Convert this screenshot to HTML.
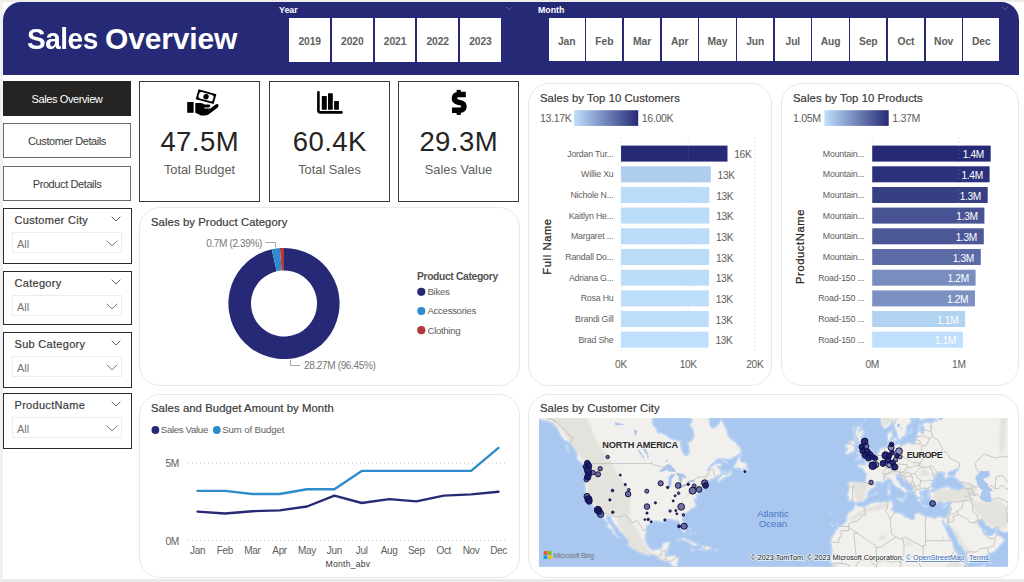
<!DOCTYPE html><html lang="en"><head><meta charset="utf-8"><title>Sales Overview</title><style>
*{box-sizing:border-box;margin:0;padding:0}
html,body{width:1024px;height:582px;overflow:hidden;background:#fff;font-family:"Liberation Sans",sans-serif;}
body{position:relative;color:#252423}
.abs{position:absolute}
#pagebg{left:0;top:0;width:1024px;height:582px;background:#fff;border-top:2px solid #ececec;border-bottom:3px solid #eaeaea;border-left:3px solid #f1f1f1}
#hdr{left:3px;top:2px;width:1016px;height:73px;background:#262a76;border-radius:18px 18px 0 0}
#hdr h1{position:absolute;left:23.5px;top:19px;font-size:30px;line-height:36px;font-weight:bold;color:#fff;letter-spacing:-0.55px;white-space:nowrap}
.sl-t{position:absolute;color:#fff;font-weight:bold;font-size:8.8px;line-height:10px;top:3.3px}
.tile{position:absolute;top:18px;height:44px;background:#fff;color:#605e5c;font-weight:bold;font-size:10.3px;text-align:center;line-height:47px;letter-spacing:-0.1px}
.nav{position:absolute;left:3px;width:128px;height:35px;border:1px solid #6b6b6b;background:#fff;color:#3b3a39;font-size:11px;line-height:35px;text-align:center;letter-spacing:-0.4px}
.nav.on{background:#252423;color:#fff;border-color:#252423}
.slc{position:absolute;left:3px;width:129px;height:56px;border:1px solid #2b2b2b;background:#fff}
.slc .t{position:absolute;left:10.5px;top:3.8px;font-size:11px;line-height:14px;color:#3b3a39;letter-spacing:0.3px;-webkit-text-stroke:0.2px #3b3a39}
.slc .dd{position:absolute;left:8px;top:23.2px;width:110px;height:21px;border:1px solid #ededed;}
.slc .dd span{position:absolute;left:4px;top:3.6px;font-size:11px;line-height:14px;color:#777}
.slc svg{position:absolute;overflow:visible}
.kpi{position:absolute;top:81px;width:121px;height:121px;border:1px solid #3a3a3a;background:#fff}
.kpi .v{position:absolute;left:0;width:100%;top:42px;text-align:center;font-size:27.5px;line-height:35px;color:#252423;letter-spacing:0.45px;text-indent:0.45px}
.kpi .l{position:absolute;left:0;width:100%;top:80px;text-align:center;font-size:12.8px;line-height:16px;color:#605e5c}
.kpi svg{position:absolute}
.card{position:absolute;border:1px solid #e9e9e9;border-radius:21px;background:#fff}
.ttl{position:absolute;font-size:11.3px;line-height:14px;color:#3b3a39;letter-spacing:0.08px;white-space:nowrap;-webkit-text-stroke:0.2px #3b3a39}
svg text{font-family:"Liberation Sans",sans-serif;letter-spacing:-0.35px}
</style></head><body>
<div id="pagebg" class="abs"></div>
<div id="hdr" class="abs"><h1><span style="display:inline-block;transform:scaleX(.935);transform-origin:0 50%;margin-right:-4.9px">Sales</span> <span style="letter-spacing:-0.17px">Overview</span></h1>
<div class="sl-t" style="left:276px">Year</div>
<div class="tile" style="left:286.2px;width:40.9px;top:16.2px;height:43.6px">2019</div>
<div class="tile" style="left:328.9px;width:40.9px;top:16.2px;height:43.6px">2020</div>
<div class="tile" style="left:371.6px;width:40.9px;top:16.2px;height:43.6px">2021</div>
<div class="tile" style="left:414.3px;width:40.9px;top:16.2px;height:43.6px">2022</div>
<div class="tile" style="left:457.0px;width:40.9px;top:16.2px;height:43.6px">2023</div>
<div class="sl-t" style="left:535px">Month</div>
<div class="tile" style="left:545.5px;width:36.3px;top:16.2px;height:43px">Jan</div>
<div class="tile" style="left:583.2px;width:36.3px;top:16.2px;height:43px">Feb</div>
<div class="tile" style="left:620.9px;width:36.3px;top:16.2px;height:43px">Mar</div>
<div class="tile" style="left:658.6px;width:36.3px;top:16.2px;height:43px">Apr</div>
<div class="tile" style="left:696.3px;width:36.3px;top:16.2px;height:43px">May</div>
<div class="tile" style="left:734.0px;width:36.3px;top:16.2px;height:43px">Jun</div>
<div class="tile" style="left:771.7px;width:36.3px;top:16.2px;height:43px">Jul</div>
<div class="tile" style="left:809.4px;width:36.3px;top:16.2px;height:43px">Aug</div>
<div class="tile" style="left:847.1px;width:36.3px;top:16.2px;height:43px">Sep</div>
<div class="tile" style="left:884.8px;width:36.3px;top:16.2px;height:43px">Oct</div>
<div class="tile" style="left:922.5px;width:36.3px;top:16.2px;height:43px">Nov</div>
<div class="tile" style="left:960.2px;width:36.3px;top:16.2px;height:43px">Dec</div>
<svg class="abs" style="left:502px;top:4px" width="8" height="6" viewBox="0 0 8 6"><path d="M1 1 L4 4 L7 1" fill="none" stroke="#5a5e93" stroke-width="1"/></svg>
<svg class="abs" style="left:998px;top:4px" width="8" height="6" viewBox="0 0 8 6"><path d="M1 1 L4 4 L7 1" fill="none" stroke="#5a5e93" stroke-width="1"/></svg>
</div>
<div class="nav on" style="top:81.0px">Sales Overview</div>
<div class="nav" style="top:123.2px">Customer Details</div>
<div class="nav" style="top:165.8px">Product Details</div>
<div class="slc" style="top:208.0px;height:56.0px"><div class="t">Customer City</div>
<svg style="left:107px;top:7px" width="10" height="6" viewBox="0 0 10 6"><path d="M0.7 0.7 L5 5 L9.3 0.7" fill="none" stroke="#666" stroke-width="1"/></svg>
<div class="dd"><span>All</span><svg style="left:93px;top:7px" width="12" height="7" viewBox="0 0 12 7"><path d="M0.7 0.7 L6 5.8 L11.3 0.7" fill="none" stroke="#777" stroke-width="1"/></svg></div></div>
<div class="slc" style="top:271.0px;height:54.0px"><div class="t">Category</div>
<svg style="left:107px;top:7px" width="10" height="6" viewBox="0 0 10 6"><path d="M0.7 0.7 L5 5 L9.3 0.7" fill="none" stroke="#666" stroke-width="1"/></svg>
<div class="dd"><span>All</span><svg style="left:93px;top:7px" width="12" height="7" viewBox="0 0 12 7"><path d="M0.7 0.7 L6 5.8 L11.3 0.7" fill="none" stroke="#777" stroke-width="1"/></svg></div></div>
<div class="slc" style="top:332.0px;height:56.0px"><div class="t">Sub Category</div>
<svg style="left:107px;top:7px" width="10" height="6" viewBox="0 0 10 6"><path d="M0.7 0.7 L5 5 L9.3 0.7" fill="none" stroke="#666" stroke-width="1"/></svg>
<div class="dd"><span>All</span><svg style="left:93px;top:7px" width="12" height="7" viewBox="0 0 12 7"><path d="M0.7 0.7 L6 5.8 L11.3 0.7" fill="none" stroke="#777" stroke-width="1"/></svg></div></div>
<div class="slc" style="top:393.0px;height:56.0px"><div class="t">ProductName</div>
<svg style="left:107px;top:7px" width="10" height="6" viewBox="0 0 10 6"><path d="M0.7 0.7 L5 5 L9.3 0.7" fill="none" stroke="#666" stroke-width="1"/></svg>
<div class="dd"><span>All</span><svg style="left:93px;top:7px" width="12" height="7" viewBox="0 0 12 7"><path d="M0.7 0.7 L6 5.8 L11.3 0.7" fill="none" stroke="#777" stroke-width="1"/></svg></div></div>
<div class="kpi" style="left:139px"><svg style="left:44px;top:6px" width="38" height="30" viewBox="184 88 38 30">
<rect x="187.2" y="102" width="6.4" height="10.8" fill="#000"/>
<path d="M195.3 103 L200.5 103 Q203 103 204.6 104.6 L209.2 104.6 Q210.4 104.8 210.2 106.2 Q210 107.3 208.8 107.4 L204.4 107.4 L204.4 108.4 L210.4 108.4 L215.6 104.4 Q217.3 103.4 218.4 104.8 Q219.1 106.2 217.7 107.4 L209.5 113.8 Q207.5 115.4 205 115.4 L201 115.4 L195.3 112.8 Z" fill="#000"/>
<g transform="rotate(15.5 206 96.5)"><rect x="196.8" y="91.6" width="18.6" height="10.2" fill="#000"/><rect x="198.7" y="93.4" width="14.8" height="6.6" rx="2" fill="#fff"/><circle cx="206.1" cy="96.7" r="2.7" fill="#000"/></g>
</svg><div class="v">47.5M</div><div class="l">Total Budget</div></div>
<div class="kpi" style="left:269px"><svg style="left:44px;top:6px" width="38" height="30" viewBox="314 88 38 30">
<path d="M318.4 92.3 L318.4 110.6 Q318.4 112.4 320.2 112.4 L341.5 112.4" fill="none" stroke="#000" stroke-width="2.6" stroke-linecap="round"/>
<rect x="321.8" y="96.1" width="5" height="13.7" rx="0.6" fill="#000"/><rect x="328" y="93.3" width="4.8" height="16.5" rx="0.6" fill="#000"/><rect x="334.1" y="101" width="4.8" height="8.8" rx="0.6" fill="#000"/>
</svg><div class="v">60.4K</div><div class="l">Total Sales</div></div>
<div class="kpi" style="left:398px"><svg style="left:41px;top:6px" width="38" height="30" viewBox="440 88 38 30">
<path d="M465.8 94.5 L459 94.5 Q454.4 94.5 454.4 98.3 Q454.4 101.4 458.5 102.3 L460.3 102.7 Q464 103.6 464 106.6 Q464 110.3 459.5 110.3 L452 110.3" fill="none" stroke="#000" stroke-width="5.4"/>
<rect x="456.6" y="89.9" width="4.3" height="3" fill="#000"/><rect x="456.6" y="112" width="4.3" height="2.9" fill="#000"/>
</svg><div class="v">29.3M</div><div class="l">Sales Value</div></div>
<div class="card" style="left:139px;top:206.5px;width:381px;height:179.5px"></div>
<div class="ttl" style="left:151px;top:214.5px">Sales by Product Category</div>
<svg class="abs" style="left:139px;top:206px" width="381" height="180" viewBox="139 206 381 180">
<path d="M284.00 247.90 A55.60 55.60 0 1 1 271.70 249.28 L276.70 271.32 A33.00 33.00 0 1 0 284.00 270.50 Z" fill="#262a76"/>
<path d="M271.70 249.28 A55.60 55.60 0 0 1 279.95 248.05 L281.60 270.59 A33.00 33.00 0 0 0 276.70 271.32 Z" fill="#2f8bcc"/>
<path d="M279.95 248.05 A55.60 55.60 0 0 1 284.00 247.90 L284.00 270.50 A33.00 33.00 0 0 0 281.60 270.59 Z" fill="#b5383c"/>
<path d="M265.5 242.5 H275.5 V247.5" fill="none" stroke="#a6a6a6" stroke-width="1"/>
<path d="M290.5 359.5 V365.5 H300" fill="none" stroke="#a6a6a6" stroke-width="1"/>
<text x="262" y="246.6" text-anchor="end" font-size="10" fill="#777">0.7M (2.39%)</text>
<text x="304" y="369" font-size="10" fill="#777">28.27M (96.45%)</text>
<text x="417" y="279.5" font-size="10.3" font-weight="bold" fill="#55534f">Product Category</text>
<circle cx="421.3" cy="291.8" r="4.1" fill="#262a76"/><text x="427.5" y="295.2" font-size="9.7" fill="#605e5c">Bikes</text>
<circle cx="421.3" cy="311.0" r="4.1" fill="#2f8bcc"/><text x="427.5" y="314.4" font-size="9.7" fill="#605e5c">Accessories</text>
<circle cx="421.3" cy="330.2" r="4.1" fill="#b5383c"/><text x="427.5" y="333.6" font-size="9.7" fill="#605e5c">Clothing</text>
</svg>
<div class="card" style="left:139px;top:394px;width:381px;height:183.5px"></div>
<div class="ttl" style="left:151px;top:401px">Sales and Budget Amount by Month</div>
<svg class="abs" style="left:139px;top:394px" width="381" height="184" viewBox="139 394 381 184">
<circle cx="155.4" cy="430" r="3.9" fill="#262a76"/><text x="160.8" y="433.4" font-size="9.7" fill="#605e5c">Sales Value</text>
<circle cx="216.8" cy="430" r="3.9" fill="#2f8bcc"/><text x="222.2" y="433.4" font-size="9.7" fill="#605e5c" style="letter-spacing:-0.15px">Sum of Budget</text>
<line x1="188" x2="507" y1="463.2" y2="463.2" stroke="#c8c8c8" stroke-width="1" stroke-dasharray="1 3"/>
<text x="179" y="467.3" text-anchor="end" font-size="10.2" fill="#605e5c">5M</text>
<line x1="188" x2="507" y1="540.5" y2="540.5" stroke="#c8c8c8" stroke-width="1" stroke-dasharray="1 3"/>
<text x="179" y="544.6" text-anchor="end" font-size="10.2" fill="#605e5c">0M</text>
<text x="197.6" y="553.9" text-anchor="middle" font-size="10" fill="#605e5c">Jan</text>
<text x="224.9" y="553.9" text-anchor="middle" font-size="10" fill="#605e5c">Feb</text>
<text x="252.3" y="553.9" text-anchor="middle" font-size="10" fill="#605e5c">Mar</text>
<text x="279.6" y="553.9" text-anchor="middle" font-size="10" fill="#605e5c">Apr</text>
<text x="307.0" y="553.9" text-anchor="middle" font-size="10" fill="#605e5c">May</text>
<text x="334.4" y="553.9" text-anchor="middle" font-size="10" fill="#605e5c">Jun</text>
<text x="361.7" y="553.9" text-anchor="middle" font-size="10" fill="#605e5c">Jul</text>
<text x="389.1" y="553.9" text-anchor="middle" font-size="10" fill="#605e5c">Aug</text>
<text x="416.4" y="553.9" text-anchor="middle" font-size="10" fill="#605e5c">Sep</text>
<text x="443.8" y="553.9" text-anchor="middle" font-size="10" fill="#605e5c">Oct</text>
<text x="471.1" y="553.9" text-anchor="middle" font-size="10" fill="#605e5c">Nov</text>
<text x="498.5" y="553.9" text-anchor="middle" font-size="10" fill="#605e5c">Dec</text>
<text x="348" y="567" text-anchor="middle" font-size="8.6" fill="#3b3a39" style="letter-spacing:0.25px">Month_abv</text>
<polyline points="197.6,490.9 224.9,490.9 252.3,494.0 279.6,494.0 307.0,489.3 334.4,489.3 361.7,470.9 389.1,470.9 416.4,470.9 443.8,470.9 471.1,470.9 498.5,447.9" fill="none" stroke="#2f8bcc" stroke-width="2.4" stroke-linejoin="round" stroke-linecap="round"/>
<polyline points="197.6,511.6 224.9,513.5 252.3,511.2 279.6,510.4 307.0,506.5 334.4,495.6 361.7,503.0 389.1,499.1 416.4,501.4 443.8,495.6 471.1,494.4 498.5,491.7" fill="none" stroke="#262a76" stroke-width="2.4" stroke-linejoin="round" stroke-linecap="round"/>
</svg>
<div class="card" style="left:528px;top:83px;width:244px;height:303px"></div>
<div class="ttl" style="left:540px;top:91px">Sales by Top 10 Customers</div>
<svg class="abs" style="left:528px;top:83px" width="244" height="303" viewBox="528 83 244 303">
<defs><linearGradient id="gcust" x1="0" x2="1" y1="0" y2="0"><stop offset="0" stop-color="#bee0fc"/><stop offset="1" stop-color="#262a76"/></linearGradient></defs>
<text x="540" y="121.7" font-size="10.6" fill="#605e5c">13.17K</text>
<rect x="574.0" y="110.2" width="64.2" height="15.7" fill="url(#gcust)"/>
<text x="641.8" y="121.7" font-size="10.6" fill="#605e5c">16.00K</text>
<text x="621.0" y="368.3" text-anchor="middle" font-size="10.2" fill="#605e5c">0K</text>
<text x="688.2" y="368.3" text-anchor="middle" font-size="10.2" fill="#605e5c">10K</text>
<text x="754.8" y="368.3" text-anchor="middle" font-size="10.2" fill="#605e5c">20K</text>
<line x1="621.0" x2="621.0" y1="138" y2="352" stroke="#d2d2d2" stroke-width="1" stroke-dasharray="1 3"/>
<line x1="688.2" x2="688.2" y1="138" y2="352" stroke="#d2d2d2" stroke-width="1" stroke-dasharray="1 3"/>
<line x1="754.8" x2="754.8" y1="138" y2="352" stroke="#d2d2d2" stroke-width="1" stroke-dasharray="1 3"/>
<rect x="621.0" y="145.6" width="106.5" height="16" fill="#262a76"/>
<rect x="621.0" y="166.3" width="89.8" height="16" fill="#afceef"/>
<rect x="621.0" y="187.0" width="88.4" height="16" fill="#bbdcf9"/>
<rect x="621.0" y="207.6" width="88.4" height="16" fill="#bbdcf9"/>
<rect x="621.0" y="228.3" width="88.3" height="16" fill="#bbdcf9"/>
<rect x="621.0" y="249.0" width="88.2" height="16" fill="#bbdcf9"/>
<rect x="621.0" y="269.7" width="88.0" height="16" fill="#bcddfa"/>
<rect x="621.0" y="290.4" width="87.9" height="16" fill="#bcdefb"/>
<rect x="621.0" y="311.0" width="87.8" height="16" fill="#bcdefb"/>
<rect x="621.0" y="331.7" width="87.6" height="16" fill="#bee0fc"/>
<line x1="621.0" x2="621.0" y1="138" y2="352" stroke="#ffffff" stroke-opacity="0.22" stroke-width="1" stroke-dasharray="1 3"/>
<line x1="688.2" x2="688.2" y1="138" y2="352" stroke="#ffffff" stroke-opacity="0.22" stroke-width="1" stroke-dasharray="1 3"/>
<line x1="754.8" x2="754.8" y1="138" y2="352" stroke="#ffffff" stroke-opacity="0.22" stroke-width="1" stroke-dasharray="1 3"/>
<text x="613.5" y="156.6" text-anchor="end" font-size="8.8" fill="#605e5c" style="letter-spacing:-0.2px">Jordan Tur...</text>
<text x="734.3" y="158.2" font-size="10.2" fill="#605e5c">16K</text>
<text x="613.5" y="177.3" text-anchor="end" font-size="8.8" fill="#605e5c" style="letter-spacing:-0.2px">Willie Xu</text>
<text x="717.6" y="178.9" font-size="10.2" fill="#605e5c">13K</text>
<text x="613.5" y="198.0" text-anchor="end" font-size="8.8" fill="#605e5c" style="letter-spacing:-0.2px">Nichole N...</text>
<text x="716.2" y="199.6" font-size="10.2" fill="#605e5c">13K</text>
<text x="613.5" y="218.6" text-anchor="end" font-size="8.8" fill="#605e5c" style="letter-spacing:-0.2px">Kaitlyn He...</text>
<text x="716.2" y="220.2" font-size="10.2" fill="#605e5c">13K</text>
<text x="613.5" y="239.3" text-anchor="end" font-size="8.8" fill="#605e5c" style="letter-spacing:-0.2px">Margaret ...</text>
<text x="716.1" y="240.9" font-size="10.2" fill="#605e5c">13K</text>
<text x="613.5" y="260.0" text-anchor="end" font-size="8.8" fill="#605e5c" style="letter-spacing:-0.2px">Randall Do...</text>
<text x="716.0" y="261.6" font-size="10.2" fill="#605e5c">13K</text>
<text x="613.5" y="280.7" text-anchor="end" font-size="8.8" fill="#605e5c" style="letter-spacing:-0.2px">Adriana G...</text>
<text x="715.8" y="282.3" font-size="10.2" fill="#605e5c">13K</text>
<text x="613.5" y="301.4" text-anchor="end" font-size="8.8" fill="#605e5c" style="letter-spacing:-0.2px">Rosa Hu</text>
<text x="715.7" y="303.0" font-size="10.2" fill="#605e5c">13K</text>
<text x="613.5" y="322.0" text-anchor="end" font-size="8.8" fill="#605e5c" style="letter-spacing:-0.2px">Brandi Gill</text>
<text x="715.6" y="323.6" font-size="10.2" fill="#605e5c">13K</text>
<text x="613.5" y="342.7" text-anchor="end" font-size="8.8" fill="#605e5c" style="letter-spacing:-0.2px">Brad She</text>
<text x="715.4" y="344.3" font-size="10.2" fill="#605e5c">13K</text>
<text transform="translate(550.5 246.5) rotate(-90)" text-anchor="middle" font-size="11.2" fill="#252423" style="letter-spacing:0.6px" stroke="#252423" stroke-width="0.2">Full Name</text>
</svg>
<div class="card" style="left:781px;top:83px;width:238px;height:303px"></div>
<div class="ttl" style="left:793px;top:91px">Sales by Top 10 Products</div>
<svg class="abs" style="left:781px;top:83px" width="238" height="303" viewBox="781 83 238 303">
<defs><linearGradient id="gprod" x1="0" x2="1" y1="0" y2="0"><stop offset="0" stop-color="#bee0fc"/><stop offset="1" stop-color="#262a76"/></linearGradient></defs>
<text x="793" y="121.7" font-size="10.6" fill="#605e5c">1.05M</text>
<rect x="824.4" y="110.2" width="64.3" height="15.7" fill="url(#gprod)"/>
<text x="892.3" y="121.7" font-size="10.6" fill="#605e5c">1.37M</text>
<text x="872.2" y="368.3" text-anchor="middle" font-size="10.2" fill="#605e5c">0M</text>
<text x="958.8" y="368.3" text-anchor="middle" font-size="10.2" fill="#605e5c">1M</text>
<line x1="872.2" x2="872.2" y1="138" y2="352" stroke="#d2d2d2" stroke-width="1" stroke-dasharray="1 3"/>
<line x1="958.8" x2="958.8" y1="138" y2="352" stroke="#d2d2d2" stroke-width="1" stroke-dasharray="1 3"/>
<rect x="872.2" y="145.6" width="118.5" height="16" fill="#262a76"/>
<rect x="872.2" y="166.3" width="117.4" height="16" fill="#2c317b"/>
<rect x="872.2" y="187.0" width="115.5" height="16" fill="#363e84"/>
<rect x="872.2" y="207.6" width="112.2" height="16" fill="#485394"/>
<rect x="872.2" y="228.3" width="111.6" height="16" fill="#4c5797"/>
<rect x="872.2" y="249.0" width="108.6" height="16" fill="#5c6ba6"/>
<rect x="872.2" y="269.7" width="103.4" height="16" fill="#798dbf"/>
<rect x="872.2" y="290.4" width="102.8" height="16" fill="#7c91c2"/>
<rect x="872.2" y="311.0" width="92.9" height="16" fill="#b2d2f1"/>
<rect x="872.2" y="331.7" width="90.7" height="16" fill="#bee0fc"/>
<line x1="872.2" x2="872.2" y1="138" y2="352" stroke="#ffffff" stroke-opacity="0.22" stroke-width="1" stroke-dasharray="1 3"/>
<line x1="958.8" x2="958.8" y1="138" y2="352" stroke="#ffffff" stroke-opacity="0.22" stroke-width="1" stroke-dasharray="1 3"/>
<text x="864.2" y="156.6" text-anchor="end" font-size="8.8" fill="#605e5c" style="letter-spacing:-0.2px">Mountain...</text>
<text x="983.9" y="158.2" text-anchor="end" font-size="10.2" fill="#fff">1.4M</text>
<text x="864.2" y="177.3" text-anchor="end" font-size="8.8" fill="#605e5c" style="letter-spacing:-0.2px">Mountain...</text>
<text x="982.8" y="178.9" text-anchor="end" font-size="10.2" fill="#fff">1.4M</text>
<text x="864.2" y="198.0" text-anchor="end" font-size="8.8" fill="#605e5c" style="letter-spacing:-0.2px">Mountain...</text>
<text x="980.9" y="199.6" text-anchor="end" font-size="10.2" fill="#fff">1.3M</text>
<text x="864.2" y="218.6" text-anchor="end" font-size="8.8" fill="#605e5c" style="letter-spacing:-0.2px">Mountain...</text>
<text x="977.6" y="220.2" text-anchor="end" font-size="10.2" fill="#fff">1.3M</text>
<text x="864.2" y="239.3" text-anchor="end" font-size="8.8" fill="#605e5c" style="letter-spacing:-0.2px">Mountain...</text>
<text x="977.0" y="240.9" text-anchor="end" font-size="10.2" fill="#fff">1.3M</text>
<text x="864.2" y="260.0" text-anchor="end" font-size="8.8" fill="#605e5c" style="letter-spacing:-0.2px">Mountain...</text>
<text x="974.0" y="261.6" text-anchor="end" font-size="10.2" fill="#fff">1.3M</text>
<text x="864.2" y="280.7" text-anchor="end" font-size="8.8" fill="#605e5c" style="letter-spacing:-0.2px">Road-150 ...</text>
<text x="968.8" y="282.3" text-anchor="end" font-size="10.2" fill="#fff">1.2M</text>
<text x="864.2" y="301.4" text-anchor="end" font-size="8.8" fill="#605e5c" style="letter-spacing:-0.2px">Road-150 ...</text>
<text x="968.2" y="303.0" text-anchor="end" font-size="10.2" fill="#fff">1.2M</text>
<text x="864.2" y="322.0" text-anchor="end" font-size="8.8" fill="#605e5c" style="letter-spacing:-0.2px">Road-150 ...</text>
<text x="958.3" y="323.6" text-anchor="end" font-size="10.2" fill="#fff">1.1M</text>
<text x="864.2" y="342.7" text-anchor="end" font-size="8.8" fill="#605e5c" style="letter-spacing:-0.2px">Road-150 ...</text>
<text x="956.1" y="344.3" text-anchor="end" font-size="10.2" fill="#fff">1.1M</text>
<text transform="translate(803.8 246.5) rotate(-90)" text-anchor="middle" font-size="11.2" fill="#252423" style="letter-spacing:0.6px" stroke="#252423" stroke-width="0.2">ProductName</text>
</svg>
<div class="card" style="left:528px;top:393.5px;width:491px;height:184.5px"></div>
<div class="ttl" style="left:540px;top:401px">Sales by Customer City</div>
<svg class="abs" style="left:539.0px;top:418.2px" width="469.2" height="148.8" viewBox="539.0 418.2 469.2 148.8">
<rect x="539.0" y="418.2" width="469.2" height="148.8" fill="#a9c7ef"/>
<defs><filter id="tb" x="-20%" y="-20%" width="140%" height="140%"><feGaussianBlur stdDeviation="1.3"/></filter><clipPath id="landclip"><path d="M526.5 410.9L529.9 414.7L533.3 417.5L537.9 418.9L541.8 420.3L545.9 421.2L549.3 422.1L553.4 424.8L556.6 427.9L558.9 432.6L560.9 436.7L564.1 440.8L569.4 442.7L571.2 444.7L573.0 448.2L576.0 451.9L577.1 455.6L576.0 457.1L577.1 459.6L579.9 462.4L582.6 464.2L585.8 465.9L584.2 465.9L585.1 469.6L585.8 473.3L585.6 478.5L584.6 484.2L585.3 487.5L584.9 491.5L586.2 494.7L588.1 497.7L589.2 499.1L589.7 501.1L590.6 502.5L591.9 505.1L593.8 508.4L596.0 508.7L598.1 509.8L599.2 510.6L601.1 512.3L601.5 513.9L602.4 516.0L604.0 519.2L605.6 521.6L608.1 524.2L606.3 526.3L608.6 528.1L609.9 529.1L612.2 531.1L612.7 533.9L615.4 535.9L617.7 538.7L619.1 537.9L617.0 535.4L615.6 533.4L614.3 530.1L612.7 527.8L611.1 525.0L608.6 521.9L607.0 519.0L606.8 516.0L610.4 517.1L611.3 519.8L612.7 522.7L615.2 525.8L617.7 528.3L619.3 531.7L622.5 534.2L625.7 537.7L627.5 540.1L628.4 542.1L628.2 544.3L627.5 545.0L629.3 547.5L631.6 548.7L635.5 550.8L638.2 552.3L640.7 553.4L643.9 554.6L648.3 556.1L650.8 555.6L652.1 554.9L654.4 555.6L656.9 557.5L658.3 558.9L661.0 560.3L663.8 561.2L666.7 561.9L669.0 562.4L670.1 563.8L671.7 565.7L672.9 567.1L672.9 569.4L675.2 570.3L678.1 572.6L679.7 574.0L682.7 575.2L685.0 576.3L686.1 572.6L684.3 571.7L682.0 571.9L680.2 570.5L678.3 568.5L677.4 567.1L677.7 564.7L678.1 562.4L678.6 560.1L678.8 557.7L677.4 556.8L675.4 555.6L672.4 555.6L669.0 555.8L667.2 555.8L665.8 555.6L666.9 554.2L667.4 551.8L667.6 549.9L668.3 549.4L668.8 547.0L669.5 544.8L670.6 542.6L669.5 541.9L666.7 542.1L663.8 542.6L662.4 543.3L662.2 545.8L661.5 547.7L659.9 548.9L657.6 549.4L655.3 549.6L653.3 550.1L650.8 548.9L649.4 547.7L648.3 545.8L646.9 543.8L646.2 541.9L645.5 540.1L645.5 537.9L645.7 535.4L646.4 532.9L646.9 531.1L646.4 528.9L647.1 526.3L649.2 524.5L651.4 523.2L652.6 522.1L654.6 521.3L657.4 521.6L659.7 521.9L661.5 522.7L663.1 522.9L664.2 522.4L665.1 523.2L664.4 521.6L664.2 520.0L666.0 519.5L667.9 519.8L669.7 519.8L671.5 519.5L673.1 520.3L674.2 521.3L676.1 520.8L677.0 520.3L678.3 521.6L679.7 523.2L679.7 525.3L679.9 526.8L681.1 528.9L682.0 530.9L683.4 532.7L684.5 533.0L685.4 532.4L685.9 531.1L686.1 528.9L685.4 526.8L685.0 524.7L683.8 522.7L682.9 519.8L683.1 517.4L684.0 515.2L686.3 513.4L687.9 511.7L690.7 510.4L691.6 509.0L693.9 508.1L696.1 506.5L695.9 504.2L695.2 501.7L694.5 500.5L694.3 498.5L695.4 500.8L696.8 498.5L697.3 496.5L696.6 495.0L697.7 495.8L699.3 493.9L699.8 491.5L700.5 490.9L703.0 490.3L704.6 489.5L703.0 488.8L705.3 488.8L706.6 488.2L708.9 487.8L708.7 486.5L707.8 487.2L706.6 485.7L707.3 484.5L707.5 482.9L708.4 481.3L710.5 480.4L712.3 479.4L714.6 478.5L715.7 477.5L717.8 476.5L720.5 475.2L721.4 474.3L721.2 475.9L719.6 477.2L718.2 478.5L717.6 481.0L718.9 482.3L721.4 480.4L723.7 478.5L727.1 477.2L729.4 476.2L731.2 474.9L731.9 473.0L730.6 470.6L728.3 473.0L726.0 474.9L722.8 473.9L720.8 472.0L720.3 470.0L718.9 467.9L717.3 466.9L720.8 466.9L722.1 464.5L720.3 463.1L716.7 463.5L712.3 465.5L709.6 468.3L707.3 470.6L708.0 469.6L709.8 466.9L712.1 464.2L714.8 462.4L716.9 459.6L721.4 459.2L726.0 459.6L730.6 459.6L733.5 458.2L738.1 455.3L741.3 453.1L741.0 450.1L740.1 447.0L737.4 444.7L736.5 442.7L732.8 440.4L729.6 437.5L727.8 434.7L727.4 431.3L725.8 427.9L723.7 423.9L721.4 418.9L719.6 422.1L717.3 425.7L714.4 427.4L712.5 428.3L710.0 425.2L709.6 420.3L708.9 415.7L704.3 408.5L690.7 408.5L690.2 416.6L692.0 420.8L689.5 425.7L692.3 429.2L693.4 433.4L693.9 436.7L691.6 440.4L687.7 442.7L688.4 446.3L688.8 450.1L689.3 453.1L687.5 454.9L686.1 456.0L684.3 454.5L682.2 451.2L681.1 447.0L680.9 443.1L680.6 440.8L677.0 440.8L673.3 439.6L669.0 437.5L665.6 434.7L661.5 433.0L657.8 433.0L656.7 429.2L653.7 425.7L652.4 421.7L653.7 415.7L655.3 408.5ZM741.0 454.5L738.5 457.1L736.7 460.3L735.6 463.1L734.0 465.5L733.3 468.3L736.3 468.6L739.5 468.6L741.3 470.6L742.2 471.0L743.8 468.6L745.2 469.6L745.4 471.3L747.2 471.6L748.1 469.6L748.1 467.9L746.3 466.9L747.4 464.9L746.3 463.1L744.0 462.1L741.5 461.7L740.8 460.3L740.4 457.4L741.7 455.6ZM676.3 540.9L677.0 539.6L678.8 538.7L681.1 538.0L683.8 537.9L686.1 538.7L688.4 539.9L690.7 540.9L692.5 541.9L694.8 542.8L696.6 543.6L699.1 545.0L697.5 545.8L694.1 546.0L691.6 546.0L691.6 544.5L689.7 543.8L687.5 541.9L684.7 541.1L682.5 540.4L680.4 539.6L678.1 540.3ZM701.4 546.0L703.9 545.9L706.2 546.0L709.1 546.7L710.5 547.7L712.5 548.9L711.9 550.1L709.4 549.6L707.1 550.1L705.5 551.3L703.4 550.1L700.7 550.3L698.9 549.6L699.3 549.0L703.0 549.4L702.5 547.9L701.4 546.7ZM690.0 549.5L692.5 549.4L694.5 550.1L694.3 550.8L692.3 551.1L690.2 550.3ZM715.3 549.4L718.7 549.5L718.5 550.6L715.3 550.7ZM721.7 460.7L726.7 462.1L727.6 463.5L724.2 462.8ZM722.1 471.0L726.9 472.3L725.8 473.9L722.8 473.3ZM565.3 445.1L568.0 445.9L568.2 449.3L569.6 452.7L567.1 450.8ZM690.2 533.2L691.3 535.2L690.4 534.9ZM688.6 529.1L691.1 529.6L689.3 529.4ZM694.3 532.4L694.8 534.2L695.0 533.4ZM917.5 408.5L917.3 415.2L917.7 418.0L919.1 418.9L920.9 421.0L923.7 420.1L926.4 419.4L929.6 418.2L931.9 417.8L933.7 417.5L934.6 419.4L937.4 420.5L935.1 420.8L933.0 422.1L930.1 422.8L927.1 422.1L924.8 422.8L922.1 423.9L922.3 426.1L924.1 427.9L923.9 430.0L923.2 433.4L921.4 433.0L920.0 430.4L917.7 431.7L916.4 435.5L916.6 438.8L915.2 441.6L913.6 443.5L911.6 444.1L910.5 442.5L907.7 442.7L905.0 444.3L901.8 445.1L900.9 445.9L899.5 443.9L898.8 442.9L896.8 444.3L895.9 445.1L893.4 445.5L893.4 443.9L891.5 443.9L890.4 442.3L890.6 440.4L891.3 438.8L891.8 437.1L893.4 435.5L892.0 433.8L892.4 431.3L892.7 430.2L891.1 431.1L888.1 433.0L887.0 435.1L887.0 437.9L887.4 439.6L888.1 442.0L888.1 443.9L888.8 445.9L887.9 447.2L885.1 446.6L884.5 447.8L882.2 447.6L880.6 448.6L879.2 449.7L878.8 451.6L877.8 453.1L876.5 454.9L875.1 455.8L872.8 456.7L872.1 457.8L871.9 459.6L871.0 460.5L869.2 461.4L868.7 462.4L867.4 462.8L866.0 462.4L865.5 461.4L864.2 461.4L864.9 463.1L865.1 465.0L863.3 465.0L861.4 464.3L859.6 464.9L857.8 465.2L857.6 466.2L857.8 467.3L858.9 467.9L861.2 468.6L862.8 469.6L863.7 470.6L864.4 472.3L865.8 473.6L866.0 475.2L865.6 478.2L865.1 481.7L864.2 482.4L861.7 482.3L859.8 482.0L857.6 482.1L855.3 481.7L852.5 481.7L850.7 481.2L849.3 482.3L847.4 483.5L848.2 485.1L848.2 486.6L848.7 489.1L848.4 491.2L848.0 493.3L847.1 494.6L846.8 496.4L848.2 497.1L848.3 498.5L848.1 501.4L850.5 501.4L852.5 500.8L853.9 501.8L854.6 503.4L855.7 504.2L856.3 503.8L857.3 502.8L858.7 502.3L860.7 502.1L862.8 502.3L863.7 502.1L864.4 500.8L866.2 499.7L866.9 499.4L867.4 497.7L869.0 496.5L868.0 495.3L867.8 493.9L868.7 492.4L870.3 490.6L871.2 489.5L873.5 488.6L875.6 487.2L875.9 485.7L875.5 484.5L876.0 482.9L877.8 482.0L879.4 482.4L880.8 482.6L882.2 483.4L883.8 482.6L885.1 481.3L886.7 480.9L887.9 479.4L889.0 479.1L891.1 480.2L892.0 482.0L892.7 483.7L894.0 485.4L895.4 486.5L896.8 487.8L898.4 488.9L899.7 488.9L900.6 490.3L901.6 490.9L902.7 491.8L904.1 492.7L905.2 494.7L904.8 496.5L904.2 498.2L905.1 498.8L906.3 497.4L906.3 495.9L907.6 495.6L906.6 493.9L906.3 492.7L907.3 491.2L908.9 491.8L910.3 493.3L910.7 492.1L909.5 490.7L907.5 489.7L905.2 488.5L905.3 486.9L903.6 486.9L902.0 486.3L900.6 484.8L900.0 483.2L899.3 481.7L897.5 480.4L896.5 478.8L897.0 477.4L896.5 475.9L899.3 474.8L899.5 475.6L900.2 477.8L901.3 476.2L902.5 478.5L903.4 480.1L905.0 481.7L906.6 482.1L908.4 483.5L910.0 484.8L911.8 486.3L913.0 487.8L912.8 489.7L912.7 491.5L913.9 492.7L914.6 494.1L915.7 495.6L916.6 497.4L918.2 497.7L920.5 498.1L920.7 498.7L918.0 498.0L916.8 498.8L917.7 500.3L918.0 502.0L918.9 501.7L919.7 503.1L920.3 502.0L921.3 503.0L920.9 501.1L921.6 500.0L920.9 498.8L922.3 498.7L923.3 499.5L923.4 498.2L922.1 496.8L920.9 495.6L920.7 494.7L920.3 493.0L920.3 491.2L920.8 491.0L921.6 492.1L922.5 492.8L923.0 491.8L923.9 492.4L923.2 490.9L924.4 490.0L925.7 489.8L927.8 490.3L929.6 490.9L928.2 492.5L929.5 491.3L930.7 490.4L932.1 489.7L934.4 489.7L934.8 488.9L932.8 487.8L932.3 486.6L931.2 485.1L932.2 482.9L933.7 481.0L933.9 479.4L934.8 477.8L936.2 476.5L936.9 474.6L938.6 472.6L940.1 472.0L941.9 472.3L942.4 473.4L944.9 473.6L943.7 474.8L942.6 476.1L944.9 477.2L944.8 478.6L946.0 479.1L948.1 477.8L949.2 477.0L951.5 476.9L951.9 475.9L949.7 475.9L948.1 474.3L948.5 473.3L950.6 471.6L952.9 471.3L954.2 470.3L956.5 470.1L958.1 470.3L956.1 471.6L955.4 473.6L954.7 475.2L952.9 476.5L953.5 477.5L954.9 478.3L956.5 479.4L957.9 480.4L959.2 482.0L960.6 482.9L962.2 483.8L963.5 486.0L963.3 487.8L961.5 489.1L959.2 489.7L957.0 489.7L954.2 489.4L951.7 488.8L950.4 487.5L948.5 486.5L946.0 486.8L943.5 487.2L941.0 488.3L938.7 489.4L936.7 489.2L935.1 489.1L934.7 489.7L936.4 490.4L934.4 491.0L932.3 491.6L930.3 491.3L928.9 492.1L928.0 493.9L929.4 494.7L929.8 496.2L929.8 497.2L928.5 497.7L930.5 498.7L930.7 500.3L931.0 501.4L932.3 502.3L933.5 502.1L934.8 502.8L935.8 503.7L937.6 503.4L938.5 501.8L940.3 502.3L941.9 503.1L943.3 504.1L945.1 503.8L946.7 502.8L947.8 502.0L949.4 502.5L950.8 501.8L950.2 503.4L950.0 505.4L950.4 507.6L949.7 509.3L949.2 510.9L948.5 512.5L948.0 514.2L947.3 516.0L946.2 517.4L944.2 517.8L942.1 517.1L941.0 516.6L939.2 516.6L937.8 516.7L936.4 517.5L934.6 518.3L932.1 517.6L930.3 516.8L928.2 516.6L925.7 516.3L924.8 515.2L922.3 515.0L921.2 513.6L919.1 512.8L917.3 513.1L914.8 514.2L914.0 516.0L914.3 517.9L913.2 519.5L911.4 519.8L909.5 518.4L906.8 517.4L904.1 516.3L903.2 514.4L901.3 513.6L898.8 512.8L896.5 512.9L894.7 512.1L893.6 510.9L892.0 510.6L891.5 509.3L893.1 507.9L893.8 506.2L892.9 504.8L892.7 503.1L893.6 502.0L893.4 501.3L892.0 502.0L891.0 500.5L889.0 500.8L887.7 501.7L885.8 501.5L884.2 501.3L882.2 502.0L880.1 502.1L878.1 501.7L875.6 502.0L873.7 502.5L871.5 502.8L869.2 504.0L867.4 504.8L865.8 506.2L863.9 506.8L861.8 506.2L859.6 506.5L857.6 505.9L856.3 504.7L854.9 504.8L854.4 506.5L853.7 508.4L852.9 509.8L851.2 510.9L849.1 511.9L847.8 513.6L847.1 515.2L846.2 516.6L845.9 519.0L846.6 519.8L845.7 521.6L844.1 523.2L842.7 524.5L839.1 525.9L837.9 527.8L835.7 530.1L834.5 532.7L833.4 534.7L832.1 536.7L831.3 538.9L829.9 541.4L829.6 543.8L830.9 544.5L831.3 546.2L830.9 547.7L831.9 550.3L831.3 553.0L830.8 555.3L829.7 557.2L828.6 558.4L830.0 559.4L830.4 561.0L830.2 562.9L830.3 564.0L832.2 565.0L833.2 566.4L834.5 567.3L835.9 568.9L837.3 570.5L838.4 574.0L983.6 574.0L985.2 568.2L985.5 565.1L983.9 565.0L980.2 566.4L976.8 566.7L974.1 567.8L971.1 568.3L968.8 567.3L967.5 566.3L966.8 565.7L965.9 565.8L967.2 564.9L967.2 563.8L965.9 562.9L964.3 561.0L961.3 558.2L958.6 556.3L957.6 554.2L956.5 551.1L954.2 548.9L953.4 546.5L953.2 543.6L952.6 540.9L949.9 538.4L949.4 536.2L948.2 533.7L946.7 530.6L945.6 527.8L944.2 525.3L942.9 522.7L942.7 520.7L944.0 523.2L945.1 525.3L946.6 526.4L947.4 524.2L948.2 521.9L947.8 524.5L948.5 525.8L949.9 527.6L951.9 530.4L953.3 533.4L954.9 535.7L956.7 538.4L957.5 540.9L957.8 543.3L959.7 545.3L962.0 547.7L963.1 550.1L965.2 553.0L966.1 555.3L966.3 557.9L967.1 560.5L967.7 563.1L969.5 563.1L972.0 561.9L975.7 560.8L978.6 559.8L981.8 558.2L984.8 557.0L987.5 554.9L990.5 553.4L993.0 553.0L995.3 551.3L997.8 548.9L1000.1 546.0L1001.9 544.5L1003.7 542.1L1005.0 539.6L1003.0 538.4L1002.1 536.9L999.6 535.9L997.5 534.9L997.1 533.4L997.0 530.4L996.4 531.9L994.6 532.7L993.0 533.9L991.6 535.4L988.9 535.7L986.4 535.4L985.7 534.4L986.3 533.2L985.5 530.6L984.4 531.9L984.3 533.9L983.2 532.2L982.7 529.4L980.9 527.6L979.5 525.5L978.4 523.2L977.9 521.6L979.2 520.6L981.1 519.8L983.0 520.8L984.6 523.2L985.7 525.8L988.0 526.5L990.3 528.6L993.0 529.4L996.0 528.3L998.0 528.1L998.9 530.1L1000.7 531.9L1003.9 532.5L1007.6 532.9L1012.1 532.9L1012.1 408.5ZM879.9 408.5L879.7 412.8L879.7 416.6L880.4 419.8L880.6 423.0L881.3 425.7L882.9 427.9L884.7 429.2L887.2 428.3L889.5 426.1L891.3 424.8L892.4 422.1L892.9 420.8L893.4 423.5L894.0 425.2L894.5 427.9L895.6 430.4L896.8 433.4L897.2 436.3L897.7 437.5L898.0 439.6L899.5 440.0L901.1 439.8L902.0 437.5L904.1 436.7L905.7 435.1L906.3 431.7L906.8 429.2L906.8 426.6L908.6 425.2L910.5 423.5L911.6 420.8L910.5 418.5L908.2 417.1L908.4 408.5ZM860.7 426.3L861.5 426.6L861.2 427.9L859.4 429.6L859.2 431.1L861.0 430.4L863.9 430.4L864.4 431.7L863.7 433.0L862.8 435.1L862.3 436.3L861.0 437.5L862.6 437.3L863.9 438.3L865.0 440.8L865.8 442.7L867.1 443.5L868.2 445.1L868.7 446.8L869.2 448.2L869.2 449.3L869.0 450.1L870.3 449.5L871.7 449.7L872.5 451.2L871.9 452.9L871.0 453.8L869.9 454.9L871.7 455.3L871.6 456.4L870.6 457.1L869.0 457.6L867.1 457.4L865.5 457.6L863.9 458.2L862.8 458.3L861.7 457.8L860.5 458.9L860.1 459.6L858.9 459.1L857.3 459.6L856.6 460.4L855.5 460.1L856.4 459.1L857.3 458.2L858.2 456.7L859.4 456.0L861.4 456.0L862.1 454.9L861.0 455.3L859.6 454.7L858.0 454.4L856.9 454.4L856.4 453.4L857.8 452.7L859.2 451.6L859.2 450.3L857.7 450.1L858.5 448.6L858.2 447.8L859.8 448.2L861.4 448.0L861.7 446.3L862.0 445.1L861.0 444.9L860.3 443.5L860.7 442.0L859.4 442.2L857.3 442.9L856.8 441.6L857.8 439.8L857.4 437.9L856.4 439.2L855.4 440.4L855.6 438.3L855.7 436.3L855.0 435.5L854.4 434.7L855.3 433.4L855.5 432.1L855.3 430.9L856.4 429.6L856.4 428.1L857.1 426.6L858.9 426.8ZM851.7 440.2L854.4 440.8L855.3 442.2L855.8 443.1L855.8 444.3L854.6 445.5L854.5 447.0L854.6 448.2L854.8 449.7L854.1 451.6L853.9 452.3L852.3 452.5L850.5 453.4L849.1 454.2L847.1 454.9L846.0 454.9L845.2 453.8L844.8 452.7L845.9 451.9L846.2 451.0L846.8 449.7L847.8 448.7L846.6 448.4L845.4 447.6L845.9 446.3L845.5 445.5L845.8 444.3L848.2 444.5L849.3 443.7L848.7 442.9L849.3 441.6L850.5 440.6ZM875.7 492.8L876.4 493.4L875.6 494.7L874.8 494.6L874.0 493.9L874.9 493.1ZM871.5 495.3L872.0 496.1L871.4 496.1ZM877.3 492.4L878.3 493.1L877.3 492.8ZM889.9 483.5L890.2 484.8L890.3 486.6L889.6 488.5L888.6 488.0L888.1 486.3L888.5 484.9L889.7 484.5ZM889.6 488.9L890.6 490.0L890.6 492.7L890.3 495.0L888.8 495.9L887.7 495.3L887.7 493.0L887.2 490.9L887.4 489.8L888.8 489.7ZM904.1 497.7L903.4 499.1L903.2 500.5L902.9 502.3L901.3 502.0L900.2 501.1L897.9 500.0L896.9 498.8L897.6 498.1L899.1 498.0L900.9 498.5L902.5 498.1ZM922.3 505.2L923.7 505.6L925.5 505.9L927.3 506.2L928.5 506.5L928.0 507.0L925.5 507.2L924.4 506.8L922.3 506.3ZM947.4 505.1L945.9 506.6L945.3 507.2L943.7 508.1L942.4 507.7L942.1 506.8L943.5 506.5L944.7 505.9ZM932.8 503.0L932.6 504.0L931.8 504.5L931.8 503.7ZM921.6 495.6L923.2 496.8L924.5 498.5L923.0 497.7L921.2 496.2ZM928.2 494.4L929.0 495.3L927.8 495.6ZM927.8 496.9L928.0 498.0L927.6 497.7ZM894.5 437.7L896.5 437.1L897.2 438.8L896.3 440.8L895.6 442.7L893.8 442.2L894.0 440.4L893.5 439.2ZM891.1 439.2L892.9 439.6L893.1 441.2L891.5 441.4ZM911.8 429.4L911.6 431.7L910.2 433.6L909.8 432.1L910.9 430.0ZM907.4 431.9L906.6 435.1L905.9 436.7L906.6 433.8ZM918.7 426.6L921.2 427.2L920.3 428.3L918.7 429.2L918.3 427.9ZM919.6 424.6L920.9 425.2L919.8 425.9ZM913.4 418.5L915.0 418.9L914.1 420.1L913.2 419.4ZM858.5 443.9L858.4 444.9L857.7 445.3L858.0 444.3ZM854.1 430.4L855.0 432.6L854.1 433.0L853.2 431.7ZM854.4 427.0L854.1 428.3L853.0 430.0L852.3 429.6L852.5 428.1ZM854.8 435.1L855.3 436.3L853.9 436.3ZM854.6 437.9L854.6 439.2L853.7 438.8ZM861.0 423.9L862.1 424.8L861.0 425.2ZM865.5 417.5L866.0 419.4L865.5 420.8L864.9 419.4ZM901.2 504.4L901.6 504.7L901.3 504.8ZM893.0 510.1L893.7 510.5L893.1 510.8ZM831.6 524.3L830.8 525.5L830.0 524.9ZM833.3 525.4L833.4 526.3L832.5 525.9ZM836.9 524.0L836.1 525.5L836.4 524.7ZM837.8 522.7L837.1 523.4L837.7 523.2ZM829.3 512.9L830.3 513.5L829.4 513.4ZM990.3 563.1L992.5 563.5L991.2 563.9ZM994.6 528.5L996.0 529.5L996.8 529.2L996.2 528.6ZM983.6 530.3L983.9 531.3L983.5 530.8Z"/></clipPath></defs>
<path d="M526.5 410.9L529.9 414.7L533.3 417.5L537.9 418.9L541.8 420.3L545.9 421.2L549.3 422.1L553.4 424.8L556.6 427.9L558.9 432.6L560.9 436.7L564.1 440.8L569.4 442.7L571.2 444.7L573.0 448.2L576.0 451.9L577.1 455.6L576.0 457.1L577.1 459.6L579.9 462.4L582.6 464.2L585.8 465.9L584.2 465.9L585.1 469.6L585.8 473.3L585.6 478.5L584.6 484.2L585.3 487.5L584.9 491.5L586.2 494.7L588.1 497.7L589.2 499.1L589.7 501.1L590.6 502.5L591.9 505.1L593.8 508.4L596.0 508.7L598.1 509.8L599.2 510.6L601.1 512.3L601.5 513.9L602.4 516.0L604.0 519.2L605.6 521.6L608.1 524.2L606.3 526.3L608.6 528.1L609.9 529.1L612.2 531.1L612.7 533.9L615.4 535.9L617.7 538.7L619.1 537.9L617.0 535.4L615.6 533.4L614.3 530.1L612.7 527.8L611.1 525.0L608.6 521.9L607.0 519.0L606.8 516.0L610.4 517.1L611.3 519.8L612.7 522.7L615.2 525.8L617.7 528.3L619.3 531.7L622.5 534.2L625.7 537.7L627.5 540.1L628.4 542.1L628.2 544.3L627.5 545.0L629.3 547.5L631.6 548.7L635.5 550.8L638.2 552.3L640.7 553.4L643.9 554.6L648.3 556.1L650.8 555.6L652.1 554.9L654.4 555.6L656.9 557.5L658.3 558.9L661.0 560.3L663.8 561.2L666.7 561.9L669.0 562.4L670.1 563.8L671.7 565.7L672.9 567.1L672.9 569.4L675.2 570.3L678.1 572.6L679.7 574.0L682.7 575.2L685.0 576.3L686.1 572.6L684.3 571.7L682.0 571.9L680.2 570.5L678.3 568.5L677.4 567.1L677.7 564.7L678.1 562.4L678.6 560.1L678.8 557.7L677.4 556.8L675.4 555.6L672.4 555.6L669.0 555.8L667.2 555.8L665.8 555.6L666.9 554.2L667.4 551.8L667.6 549.9L668.3 549.4L668.8 547.0L669.5 544.8L670.6 542.6L669.5 541.9L666.7 542.1L663.8 542.6L662.4 543.3L662.2 545.8L661.5 547.7L659.9 548.9L657.6 549.4L655.3 549.6L653.3 550.1L650.8 548.9L649.4 547.7L648.3 545.8L646.9 543.8L646.2 541.9L645.5 540.1L645.5 537.9L645.7 535.4L646.4 532.9L646.9 531.1L646.4 528.9L647.1 526.3L649.2 524.5L651.4 523.2L652.6 522.1L654.6 521.3L657.4 521.6L659.7 521.9L661.5 522.7L663.1 522.9L664.2 522.4L665.1 523.2L664.4 521.6L664.2 520.0L666.0 519.5L667.9 519.8L669.7 519.8L671.5 519.5L673.1 520.3L674.2 521.3L676.1 520.8L677.0 520.3L678.3 521.6L679.7 523.2L679.7 525.3L679.9 526.8L681.1 528.9L682.0 530.9L683.4 532.7L684.5 533.0L685.4 532.4L685.9 531.1L686.1 528.9L685.4 526.8L685.0 524.7L683.8 522.7L682.9 519.8L683.1 517.4L684.0 515.2L686.3 513.4L687.9 511.7L690.7 510.4L691.6 509.0L693.9 508.1L696.1 506.5L695.9 504.2L695.2 501.7L694.5 500.5L694.3 498.5L695.4 500.8L696.8 498.5L697.3 496.5L696.6 495.0L697.7 495.8L699.3 493.9L699.8 491.5L700.5 490.9L703.0 490.3L704.6 489.5L703.0 488.8L705.3 488.8L706.6 488.2L708.9 487.8L708.7 486.5L707.8 487.2L706.6 485.7L707.3 484.5L707.5 482.9L708.4 481.3L710.5 480.4L712.3 479.4L714.6 478.5L715.7 477.5L717.8 476.5L720.5 475.2L721.4 474.3L721.2 475.9L719.6 477.2L718.2 478.5L717.6 481.0L718.9 482.3L721.4 480.4L723.7 478.5L727.1 477.2L729.4 476.2L731.2 474.9L731.9 473.0L730.6 470.6L728.3 473.0L726.0 474.9L722.8 473.9L720.8 472.0L720.3 470.0L718.9 467.9L717.3 466.9L720.8 466.9L722.1 464.5L720.3 463.1L716.7 463.5L712.3 465.5L709.6 468.3L707.3 470.6L708.0 469.6L709.8 466.9L712.1 464.2L714.8 462.4L716.9 459.6L721.4 459.2L726.0 459.6L730.6 459.6L733.5 458.2L738.1 455.3L741.3 453.1L741.0 450.1L740.1 447.0L737.4 444.7L736.5 442.7L732.8 440.4L729.6 437.5L727.8 434.7L727.4 431.3L725.8 427.9L723.7 423.9L721.4 418.9L719.6 422.1L717.3 425.7L714.4 427.4L712.5 428.3L710.0 425.2L709.6 420.3L708.9 415.7L704.3 408.5L690.7 408.5L690.2 416.6L692.0 420.8L689.5 425.7L692.3 429.2L693.4 433.4L693.9 436.7L691.6 440.4L687.7 442.7L688.4 446.3L688.8 450.1L689.3 453.1L687.5 454.9L686.1 456.0L684.3 454.5L682.2 451.2L681.1 447.0L680.9 443.1L680.6 440.8L677.0 440.8L673.3 439.6L669.0 437.5L665.6 434.7L661.5 433.0L657.8 433.0L656.7 429.2L653.7 425.7L652.4 421.7L653.7 415.7L655.3 408.5ZM741.0 454.5L738.5 457.1L736.7 460.3L735.6 463.1L734.0 465.5L733.3 468.3L736.3 468.6L739.5 468.6L741.3 470.6L742.2 471.0L743.8 468.6L745.2 469.6L745.4 471.3L747.2 471.6L748.1 469.6L748.1 467.9L746.3 466.9L747.4 464.9L746.3 463.1L744.0 462.1L741.5 461.7L740.8 460.3L740.4 457.4L741.7 455.6ZM676.3 540.9L677.0 539.6L678.8 538.7L681.1 538.0L683.8 537.9L686.1 538.7L688.4 539.9L690.7 540.9L692.5 541.9L694.8 542.8L696.6 543.6L699.1 545.0L697.5 545.8L694.1 546.0L691.6 546.0L691.6 544.5L689.7 543.8L687.5 541.9L684.7 541.1L682.5 540.4L680.4 539.6L678.1 540.3ZM701.4 546.0L703.9 545.9L706.2 546.0L709.1 546.7L710.5 547.7L712.5 548.9L711.9 550.1L709.4 549.6L707.1 550.1L705.5 551.3L703.4 550.1L700.7 550.3L698.9 549.6L699.3 549.0L703.0 549.4L702.5 547.9L701.4 546.7ZM690.0 549.5L692.5 549.4L694.5 550.1L694.3 550.8L692.3 551.1L690.2 550.3ZM715.3 549.4L718.7 549.5L718.5 550.6L715.3 550.7ZM721.7 460.7L726.7 462.1L727.6 463.5L724.2 462.8ZM722.1 471.0L726.9 472.3L725.8 473.9L722.8 473.3ZM565.3 445.1L568.0 445.9L568.2 449.3L569.6 452.7L567.1 450.8ZM690.2 533.2L691.3 535.2L690.4 534.9ZM688.6 529.1L691.1 529.6L689.3 529.4ZM694.3 532.4L694.8 534.2L695.0 533.4ZM917.5 408.5L917.3 415.2L917.7 418.0L919.1 418.9L920.9 421.0L923.7 420.1L926.4 419.4L929.6 418.2L931.9 417.8L933.7 417.5L934.6 419.4L937.4 420.5L935.1 420.8L933.0 422.1L930.1 422.8L927.1 422.1L924.8 422.8L922.1 423.9L922.3 426.1L924.1 427.9L923.9 430.0L923.2 433.4L921.4 433.0L920.0 430.4L917.7 431.7L916.4 435.5L916.6 438.8L915.2 441.6L913.6 443.5L911.6 444.1L910.5 442.5L907.7 442.7L905.0 444.3L901.8 445.1L900.9 445.9L899.5 443.9L898.8 442.9L896.8 444.3L895.9 445.1L893.4 445.5L893.4 443.9L891.5 443.9L890.4 442.3L890.6 440.4L891.3 438.8L891.8 437.1L893.4 435.5L892.0 433.8L892.4 431.3L892.7 430.2L891.1 431.1L888.1 433.0L887.0 435.1L887.0 437.9L887.4 439.6L888.1 442.0L888.1 443.9L888.8 445.9L887.9 447.2L885.1 446.6L884.5 447.8L882.2 447.6L880.6 448.6L879.2 449.7L878.8 451.6L877.8 453.1L876.5 454.9L875.1 455.8L872.8 456.7L872.1 457.8L871.9 459.6L871.0 460.5L869.2 461.4L868.7 462.4L867.4 462.8L866.0 462.4L865.5 461.4L864.2 461.4L864.9 463.1L865.1 465.0L863.3 465.0L861.4 464.3L859.6 464.9L857.8 465.2L857.6 466.2L857.8 467.3L858.9 467.9L861.2 468.6L862.8 469.6L863.7 470.6L864.4 472.3L865.8 473.6L866.0 475.2L865.6 478.2L865.1 481.7L864.2 482.4L861.7 482.3L859.8 482.0L857.6 482.1L855.3 481.7L852.5 481.7L850.7 481.2L849.3 482.3L847.4 483.5L848.2 485.1L848.2 486.6L848.7 489.1L848.4 491.2L848.0 493.3L847.1 494.6L846.8 496.4L848.2 497.1L848.3 498.5L848.1 501.4L850.5 501.4L852.5 500.8L853.9 501.8L854.6 503.4L855.7 504.2L856.3 503.8L857.3 502.8L858.7 502.3L860.7 502.1L862.8 502.3L863.7 502.1L864.4 500.8L866.2 499.7L866.9 499.4L867.4 497.7L869.0 496.5L868.0 495.3L867.8 493.9L868.7 492.4L870.3 490.6L871.2 489.5L873.5 488.6L875.6 487.2L875.9 485.7L875.5 484.5L876.0 482.9L877.8 482.0L879.4 482.4L880.8 482.6L882.2 483.4L883.8 482.6L885.1 481.3L886.7 480.9L887.9 479.4L889.0 479.1L891.1 480.2L892.0 482.0L892.7 483.7L894.0 485.4L895.4 486.5L896.8 487.8L898.4 488.9L899.7 488.9L900.6 490.3L901.6 490.9L902.7 491.8L904.1 492.7L905.2 494.7L904.8 496.5L904.2 498.2L905.1 498.8L906.3 497.4L906.3 495.9L907.6 495.6L906.6 493.9L906.3 492.7L907.3 491.2L908.9 491.8L910.3 493.3L910.7 492.1L909.5 490.7L907.5 489.7L905.2 488.5L905.3 486.9L903.6 486.9L902.0 486.3L900.6 484.8L900.0 483.2L899.3 481.7L897.5 480.4L896.5 478.8L897.0 477.4L896.5 475.9L899.3 474.8L899.5 475.6L900.2 477.8L901.3 476.2L902.5 478.5L903.4 480.1L905.0 481.7L906.6 482.1L908.4 483.5L910.0 484.8L911.8 486.3L913.0 487.8L912.8 489.7L912.7 491.5L913.9 492.7L914.6 494.1L915.7 495.6L916.6 497.4L918.2 497.7L920.5 498.1L920.7 498.7L918.0 498.0L916.8 498.8L917.7 500.3L918.0 502.0L918.9 501.7L919.7 503.1L920.3 502.0L921.3 503.0L920.9 501.1L921.6 500.0L920.9 498.8L922.3 498.7L923.3 499.5L923.4 498.2L922.1 496.8L920.9 495.6L920.7 494.7L920.3 493.0L920.3 491.2L920.8 491.0L921.6 492.1L922.5 492.8L923.0 491.8L923.9 492.4L923.2 490.9L924.4 490.0L925.7 489.8L927.8 490.3L929.6 490.9L928.2 492.5L929.5 491.3L930.7 490.4L932.1 489.7L934.4 489.7L934.8 488.9L932.8 487.8L932.3 486.6L931.2 485.1L932.2 482.9L933.7 481.0L933.9 479.4L934.8 477.8L936.2 476.5L936.9 474.6L938.6 472.6L940.1 472.0L941.9 472.3L942.4 473.4L944.9 473.6L943.7 474.8L942.6 476.1L944.9 477.2L944.8 478.6L946.0 479.1L948.1 477.8L949.2 477.0L951.5 476.9L951.9 475.9L949.7 475.9L948.1 474.3L948.5 473.3L950.6 471.6L952.9 471.3L954.2 470.3L956.5 470.1L958.1 470.3L956.1 471.6L955.4 473.6L954.7 475.2L952.9 476.5L953.5 477.5L954.9 478.3L956.5 479.4L957.9 480.4L959.2 482.0L960.6 482.9L962.2 483.8L963.5 486.0L963.3 487.8L961.5 489.1L959.2 489.7L957.0 489.7L954.2 489.4L951.7 488.8L950.4 487.5L948.5 486.5L946.0 486.8L943.5 487.2L941.0 488.3L938.7 489.4L936.7 489.2L935.1 489.1L934.7 489.7L936.4 490.4L934.4 491.0L932.3 491.6L930.3 491.3L928.9 492.1L928.0 493.9L929.4 494.7L929.8 496.2L929.8 497.2L928.5 497.7L930.5 498.7L930.7 500.3L931.0 501.4L932.3 502.3L933.5 502.1L934.8 502.8L935.8 503.7L937.6 503.4L938.5 501.8L940.3 502.3L941.9 503.1L943.3 504.1L945.1 503.8L946.7 502.8L947.8 502.0L949.4 502.5L950.8 501.8L950.2 503.4L950.0 505.4L950.4 507.6L949.7 509.3L949.2 510.9L948.5 512.5L948.0 514.2L947.3 516.0L946.2 517.4L944.2 517.8L942.1 517.1L941.0 516.6L939.2 516.6L937.8 516.7L936.4 517.5L934.6 518.3L932.1 517.6L930.3 516.8L928.2 516.6L925.7 516.3L924.8 515.2L922.3 515.0L921.2 513.6L919.1 512.8L917.3 513.1L914.8 514.2L914.0 516.0L914.3 517.9L913.2 519.5L911.4 519.8L909.5 518.4L906.8 517.4L904.1 516.3L903.2 514.4L901.3 513.6L898.8 512.8L896.5 512.9L894.7 512.1L893.6 510.9L892.0 510.6L891.5 509.3L893.1 507.9L893.8 506.2L892.9 504.8L892.7 503.1L893.6 502.0L893.4 501.3L892.0 502.0L891.0 500.5L889.0 500.8L887.7 501.7L885.8 501.5L884.2 501.3L882.2 502.0L880.1 502.1L878.1 501.7L875.6 502.0L873.7 502.5L871.5 502.8L869.2 504.0L867.4 504.8L865.8 506.2L863.9 506.8L861.8 506.2L859.6 506.5L857.6 505.9L856.3 504.7L854.9 504.8L854.4 506.5L853.7 508.4L852.9 509.8L851.2 510.9L849.1 511.9L847.8 513.6L847.1 515.2L846.2 516.6L845.9 519.0L846.6 519.8L845.7 521.6L844.1 523.2L842.7 524.5L839.1 525.9L837.9 527.8L835.7 530.1L834.5 532.7L833.4 534.7L832.1 536.7L831.3 538.9L829.9 541.4L829.6 543.8L830.9 544.5L831.3 546.2L830.9 547.7L831.9 550.3L831.3 553.0L830.8 555.3L829.7 557.2L828.6 558.4L830.0 559.4L830.4 561.0L830.2 562.9L830.3 564.0L832.2 565.0L833.2 566.4L834.5 567.3L835.9 568.9L837.3 570.5L838.4 574.0L983.6 574.0L985.2 568.2L985.5 565.1L983.9 565.0L980.2 566.4L976.8 566.7L974.1 567.8L971.1 568.3L968.8 567.3L967.5 566.3L966.8 565.7L965.9 565.8L967.2 564.9L967.2 563.8L965.9 562.9L964.3 561.0L961.3 558.2L958.6 556.3L957.6 554.2L956.5 551.1L954.2 548.9L953.4 546.5L953.2 543.6L952.6 540.9L949.9 538.4L949.4 536.2L948.2 533.7L946.7 530.6L945.6 527.8L944.2 525.3L942.9 522.7L942.7 520.7L944.0 523.2L945.1 525.3L946.6 526.4L947.4 524.2L948.2 521.9L947.8 524.5L948.5 525.8L949.9 527.6L951.9 530.4L953.3 533.4L954.9 535.7L956.7 538.4L957.5 540.9L957.8 543.3L959.7 545.3L962.0 547.7L963.1 550.1L965.2 553.0L966.1 555.3L966.3 557.9L967.1 560.5L967.7 563.1L969.5 563.1L972.0 561.9L975.7 560.8L978.6 559.8L981.8 558.2L984.8 557.0L987.5 554.9L990.5 553.4L993.0 553.0L995.3 551.3L997.8 548.9L1000.1 546.0L1001.9 544.5L1003.7 542.1L1005.0 539.6L1003.0 538.4L1002.1 536.9L999.6 535.9L997.5 534.9L997.1 533.4L997.0 530.4L996.4 531.9L994.6 532.7L993.0 533.9L991.6 535.4L988.9 535.7L986.4 535.4L985.7 534.4L986.3 533.2L985.5 530.6L984.4 531.9L984.3 533.9L983.2 532.2L982.7 529.4L980.9 527.6L979.5 525.5L978.4 523.2L977.9 521.6L979.2 520.6L981.1 519.8L983.0 520.8L984.6 523.2L985.7 525.8L988.0 526.5L990.3 528.6L993.0 529.4L996.0 528.3L998.0 528.1L998.9 530.1L1000.7 531.9L1003.9 532.5L1007.6 532.9L1012.1 532.9L1012.1 408.5ZM879.9 408.5L879.7 412.8L879.7 416.6L880.4 419.8L880.6 423.0L881.3 425.7L882.9 427.9L884.7 429.2L887.2 428.3L889.5 426.1L891.3 424.8L892.4 422.1L892.9 420.8L893.4 423.5L894.0 425.2L894.5 427.9L895.6 430.4L896.8 433.4L897.2 436.3L897.7 437.5L898.0 439.6L899.5 440.0L901.1 439.8L902.0 437.5L904.1 436.7L905.7 435.1L906.3 431.7L906.8 429.2L906.8 426.6L908.6 425.2L910.5 423.5L911.6 420.8L910.5 418.5L908.2 417.1L908.4 408.5ZM860.7 426.3L861.5 426.6L861.2 427.9L859.4 429.6L859.2 431.1L861.0 430.4L863.9 430.4L864.4 431.7L863.7 433.0L862.8 435.1L862.3 436.3L861.0 437.5L862.6 437.3L863.9 438.3L865.0 440.8L865.8 442.7L867.1 443.5L868.2 445.1L868.7 446.8L869.2 448.2L869.2 449.3L869.0 450.1L870.3 449.5L871.7 449.7L872.5 451.2L871.9 452.9L871.0 453.8L869.9 454.9L871.7 455.3L871.6 456.4L870.6 457.1L869.0 457.6L867.1 457.4L865.5 457.6L863.9 458.2L862.8 458.3L861.7 457.8L860.5 458.9L860.1 459.6L858.9 459.1L857.3 459.6L856.6 460.4L855.5 460.1L856.4 459.1L857.3 458.2L858.2 456.7L859.4 456.0L861.4 456.0L862.1 454.9L861.0 455.3L859.6 454.7L858.0 454.4L856.9 454.4L856.4 453.4L857.8 452.7L859.2 451.6L859.2 450.3L857.7 450.1L858.5 448.6L858.2 447.8L859.8 448.2L861.4 448.0L861.7 446.3L862.0 445.1L861.0 444.9L860.3 443.5L860.7 442.0L859.4 442.2L857.3 442.9L856.8 441.6L857.8 439.8L857.4 437.9L856.4 439.2L855.4 440.4L855.6 438.3L855.7 436.3L855.0 435.5L854.4 434.7L855.3 433.4L855.5 432.1L855.3 430.9L856.4 429.6L856.4 428.1L857.1 426.6L858.9 426.8ZM851.7 440.2L854.4 440.8L855.3 442.2L855.8 443.1L855.8 444.3L854.6 445.5L854.5 447.0L854.6 448.2L854.8 449.7L854.1 451.6L853.9 452.3L852.3 452.5L850.5 453.4L849.1 454.2L847.1 454.9L846.0 454.9L845.2 453.8L844.8 452.7L845.9 451.9L846.2 451.0L846.8 449.7L847.8 448.7L846.6 448.4L845.4 447.6L845.9 446.3L845.5 445.5L845.8 444.3L848.2 444.5L849.3 443.7L848.7 442.9L849.3 441.6L850.5 440.6ZM875.7 492.8L876.4 493.4L875.6 494.7L874.8 494.6L874.0 493.9L874.9 493.1ZM871.5 495.3L872.0 496.1L871.4 496.1ZM877.3 492.4L878.3 493.1L877.3 492.8ZM889.9 483.5L890.2 484.8L890.3 486.6L889.6 488.5L888.6 488.0L888.1 486.3L888.5 484.9L889.7 484.5ZM889.6 488.9L890.6 490.0L890.6 492.7L890.3 495.0L888.8 495.9L887.7 495.3L887.7 493.0L887.2 490.9L887.4 489.8L888.8 489.7ZM904.1 497.7L903.4 499.1L903.2 500.5L902.9 502.3L901.3 502.0L900.2 501.1L897.9 500.0L896.9 498.8L897.6 498.1L899.1 498.0L900.9 498.5L902.5 498.1ZM922.3 505.2L923.7 505.6L925.5 505.9L927.3 506.2L928.5 506.5L928.0 507.0L925.5 507.2L924.4 506.8L922.3 506.3ZM947.4 505.1L945.9 506.6L945.3 507.2L943.7 508.1L942.4 507.7L942.1 506.8L943.5 506.5L944.7 505.9ZM932.8 503.0L932.6 504.0L931.8 504.5L931.8 503.7ZM921.6 495.6L923.2 496.8L924.5 498.5L923.0 497.7L921.2 496.2ZM928.2 494.4L929.0 495.3L927.8 495.6ZM927.8 496.9L928.0 498.0L927.6 497.7ZM894.5 437.7L896.5 437.1L897.2 438.8L896.3 440.8L895.6 442.7L893.8 442.2L894.0 440.4L893.5 439.2ZM891.1 439.2L892.9 439.6L893.1 441.2L891.5 441.4ZM911.8 429.4L911.6 431.7L910.2 433.6L909.8 432.1L910.9 430.0ZM907.4 431.9L906.6 435.1L905.9 436.7L906.6 433.8ZM918.7 426.6L921.2 427.2L920.3 428.3L918.7 429.2L918.3 427.9ZM919.6 424.6L920.9 425.2L919.8 425.9ZM913.4 418.5L915.0 418.9L914.1 420.1L913.2 419.4ZM858.5 443.9L858.4 444.9L857.7 445.3L858.0 444.3ZM854.1 430.4L855.0 432.6L854.1 433.0L853.2 431.7ZM854.4 427.0L854.1 428.3L853.0 430.0L852.3 429.6L852.5 428.1ZM854.8 435.1L855.3 436.3L853.9 436.3ZM854.6 437.9L854.6 439.2L853.7 438.8ZM861.0 423.9L862.1 424.8L861.0 425.2ZM865.5 417.5L866.0 419.4L865.5 420.8L864.9 419.4ZM901.2 504.4L901.6 504.7L901.3 504.8ZM893.0 510.1L893.7 510.5L893.1 510.8ZM831.6 524.3L830.8 525.5L830.0 524.9ZM833.3 525.4L833.4 526.3L832.5 525.9ZM836.9 524.0L836.1 525.5L836.4 524.7ZM837.8 522.7L837.1 523.4L837.7 523.2ZM829.3 512.9L830.3 513.5L829.4 513.4ZM990.3 563.1L992.5 563.5L991.2 563.9ZM994.6 528.5L996.0 529.5L996.8 529.2L996.2 528.6ZM983.6 530.3L983.9 531.3L983.5 530.8Z" fill="#f1f0ec" stroke="#bdd4f3" stroke-width="1.8" stroke-linejoin="round"/>
<g clip-path="url(#landclip)"><path d="M970.0 497.1L975.7 501.4L987.1 502.8L998.5 500.0L1006.4 507.0L1007.6 517.9L1007.6 527.1L998.5 529.6L989.3 525.8L984.8 520.6L977.9 513.9L973.4 507.0ZM934.6 491.2L943.7 488.8L952.9 489.7L962.0 489.1L964.3 483.5L971.1 484.2L975.7 488.2L976.8 494.1L970.0 498.5L964.3 501.4L952.9 501.4L943.7 502.8L936.9 502.0L932.3 498.5ZM883.3 480.4L883.3 473.9L891.3 468.9L900.4 468.9L905.0 472.3L905.0 477.2L910.7 483.5L915.2 486.6L916.4 492.7L914.1 491.2L909.5 485.1L902.7 478.8L899.3 474.6L889.0 474.6L886.7 479.8ZM911.8 462.8L919.8 463.8L926.6 468.9L928.9 475.6L920.9 476.2L918.7 474.6L923.2 468.9L918.7 465.5L913.0 463.8ZM850.3 483.5L863.9 482.6L869.6 484.2L874.2 485.7L866.2 488.2L866.2 492.7L863.9 498.5L860.5 501.4L856.0 500.0L853.7 491.2L852.5 486.6ZM846.8 519.2L852.5 516.6L858.2 512.5L863.9 508.4L873.1 507.0L879.9 504.2L886.7 502.8L889.0 507.0L879.9 509.8L868.5 511.2L861.7 515.2L853.7 520.6ZM882.2 427.0L881.0 408.5L895.9 408.5L893.6 420.3L887.9 424.8ZM549.3 420.3L549.3 408.5L583.5 408.5L594.9 437.5L609.7 460.3L620.0 477.2L630.2 492.7L630.2 509.8L629.1 517.9L617.7 516.6L606.3 512.5L598.3 507.0L591.5 501.4L586.9 492.7L588.1 480.4L589.2 465.5L583.5 460.3L572.1 445.5L560.7 429.2ZM616.6 517.9L629.1 517.9L635.9 528.3L641.6 538.4L646.2 545.8L649.6 551.8L656.5 555.3L661.0 557.7L664.4 559.6L661.0 560.1L650.8 555.8L643.9 554.2L634.8 550.6L629.1 545.8L626.8 537.2L620.0 528.3ZM673.6 509.8L678.1 504.2L685.0 497.1L690.7 489.7L698.6 483.5L705.5 477.2L711.2 472.3L710.0 475.6L703.2 482.0L696.4 488.2L689.5 494.1L682.7 501.4L675.8 508.4ZM949.4 525.8L956.3 535.9L962.0 545.8L966.5 553.0L968.8 560.1L972.2 561.2L973.4 557.7L970.0 551.8L965.4 545.8L959.7 535.9L952.9 527.1ZM955.1 557.7L959.7 560.1L962.0 565.9L962.0 571.7L955.1 574.0L949.4 571.7L950.6 564.7ZM878.8 535.9L884.5 534.7L885.6 539.6L879.9 540.9ZM906.1 540.9L911.8 542.1L910.7 547.0L906.1 545.8ZM1000.7 408.5L1006.4 408.5L1005.3 441.6L1003.0 453.1L999.6 453.1L999.6 441.6ZM856.0 433.4L860.5 431.3L860.5 435.5L857.1 436.7Z" fill="#c9c6c0" fill-opacity="0.33" filter="url(#tb)"/></g>
<path d="M658.5 471.5L661.0 469.6L664.4 467.3L666.9 464.5L671.1 464.9L672.6 467.4L675.2 469.6L675.6 472.0L674.0 472.3L671.3 471.6L669.2 472.3L667.4 471.0L668.1 469.3L664.9 471.0L661.9 472.0ZM673.8 473.9L674.9 474.9L673.6 477.2L671.5 479.8L671.5 482.9L671.3 486.0L670.1 487.5L668.8 487.2L668.3 484.8L668.3 481.7L668.8 478.8L667.9 478.5L669.5 476.5L670.8 474.6ZM676.5 473.9L679.3 473.1L682.0 473.9L684.3 474.6L685.6 476.5L686.1 478.8L683.8 478.2L682.7 476.5L682.7 479.1L682.0 481.7L680.6 483.5L679.9 481.3L677.9 480.4L678.6 478.8L678.3 476.5L676.1 474.9ZM678.3 487.5L679.5 486.6L682.0 485.7L684.3 484.5L688.4 484.0L687.7 485.1L685.6 486.3L682.7 487.8L680.2 488.3ZM686.6 482.6L687.9 481.3L690.7 480.5L694.1 479.8L694.8 481.7L692.5 482.6L689.5 482.4ZM643.2 446.3L645.5 448.6L647.1 452.3L648.7 456.0L648.3 458.9L647.3 458.2L647.3 455.3L645.3 453.1L643.2 449.7L642.3 447.8ZM638.9 449.7L640.5 451.9L642.1 454.5L644.4 458.2L643.7 458.9L641.0 455.3L638.9 452.3L638.0 450.1ZM665.8 459.2L667.6 460.7L667.4 462.4L665.6 461.7ZM615.0 422.1L621.1 423.9L625.7 424.4L620.0 425.2L615.4 425.7ZM634.6 429.2L637.3 431.7L635.9 435.9L633.9 432.6ZM602.2 416.1L608.6 414.7L614.3 410.9L618.8 410.9L612.0 415.7L606.3 417.5ZM980.2 470.6L984.8 471.6L988.2 470.6L989.3 472.6L989.8 476.2L985.5 478.5L983.2 478.8L985.2 482.0L988.2 484.2L988.0 487.2L991.2 488.8L993.0 490.6L989.3 492.7L990.7 494.7L991.2 497.7L991.6 500.5L991.4 501.7L988.2 502.5L985.5 502.3L983.0 500.8L981.1 500.0L980.0 497.4L980.7 494.7L981.4 492.1L983.0 490.9L980.7 489.1L978.6 486.6L976.8 483.5L976.6 480.4L975.0 478.2L977.0 475.2L979.3 473.3ZM965.2 495.9L967.5 496.1L967.2 497.5L965.4 497.4ZM971.3 498.2L972.9 498.8L972.5 500.8L971.6 500.0ZM938.0 413.3L942.6 415.7L942.8 419.4L939.4 420.5L938.3 417.5ZM930.5 424.8L931.7 426.6L931.9 429.4L930.7 427.9ZM898.1 423.9L900.4 424.4L899.5 427.0L897.2 427.4L896.8 425.2ZM901.1 426.1L902.0 428.7L900.8 430.2L900.9 427.4ZM949.3 515.9L949.7 515.9L949.4 517.6L949.2 517.6ZM907.9 470.8L909.8 470.6L907.9 471.6ZM970.9 490.9L972.5 492.1L971.3 492.1ZM943.5 536.2L943.7 537.7L941.5 539.6L940.3 540.4L942.4 538.7ZM899.3 561.0L902.2 561.5L901.6 563.1L899.5 562.6Z" fill="#a9c7ef"/>
<path d="M587.8 463.8L651.6 463.8L651.6 462.4L652.8 464.9L655.5 465.2L659.9 466.9L664.2 467.3L666.9 466.2L672.4 469.6L674.9 471.0L675.8 472.3L677.7 473.6L678.1 474.6L680.4 476.2L681.3 481.7L680.6 483.5L679.0 485.7L679.9 487.2L685.0 485.4L688.6 483.8L688.4 482.6L690.7 481.7L693.4 481.3L694.3 479.8L698.2 477.2L705.5 477.2L706.8 476.2L708.7 472.6L710.7 469.3L712.8 469.6L713.9 470.6L713.9 474.9L715.1 476.5L715.7 477.5M547.0 408.5L547.0 418.9L551.4 419.4L555.0 421.2L559.6 424.8L564.1 429.2L567.8 434.2L572.1 437.5L571.9 440.4L570.7 442.7M601.5 513.8L607.0 513.4L615.3 517.0L621.8 517.0L621.8 515.8L625.7 515.8L629.1 519.0L630.5 521.6L633.2 523.2L635.0 521.1L637.3 521.1L640.3 525.8L641.6 527.1L642.6 529.9L644.6 530.8L647.0 531.0M658.3 558.8L658.5 557.5L659.3 555.2L662.3 555.2L661.9 553.9L661.0 552.4L661.0 551.0L665.2 551.0L665.1 555.6L666.5 556.1M665.2 551.0L667.2 549.4M667.2 556.1L664.7 559.1L663.1 560.7M664.7 559.1L667.9 560.3L668.3 561.5M669.5 562.4L672.4 560.5L675.2 558.4L678.8 557.7M673.1 566.9L677.8 567.2M704.9 546.5L704.9 550.5M848.2 486.9L849.8 487.2L853.5 486.9L852.8 489.7L852.5 493.6L852.5 495.6L852.3 498.0L851.6 500.8M864.4 482.4L867.4 483.8L870.1 484.5L872.4 485.1L875.7 485.2M885.6 481.0L884.5 479.8L883.8 476.9L884.5 474.3M884.5 474.3L882.4 472.6L885.8 468.9L888.1 468.3L890.4 468.9L892.2 471.0L891.5 472.3L889.0 473.3L884.5 474.3M885.8 468.6L887.2 463.8L884.0 463.1L883.1 462.1M881.7 462.1L879.4 460.3L877.6 459.2L874.3 456.4M876.3 455.3L879.9 455.6L882.0 456.0L881.5 457.4L882.2 457.6M882.2 457.6L882.2 453.8L884.5 451.6L884.9 448.6M882.2 457.6L882.6 459.6L883.1 462.1L881.7 462.1M888.3 442.0L890.2 442.3M900.9 445.9L900.6 450.1L902.0 452.7L902.7 456.7M902.7 456.7L901.3 457.4L896.5 459.2L897.0 462.1L900.0 464.5M902.7 456.7L905.7 458.9L909.5 460.3L911.4 462.1M900.0 464.5L898.1 466.2L898.1 468.3L893.6 468.9L890.4 468.9M892.2 471.0L896.3 471.3L899.7 472.3L901.6 472.6L905.0 471.6M900.0 464.5L902.7 464.5L907.0 464.9L907.5 467.3L906.1 468.3L905.2 471.0M899.7 472.3L900.0 475.2M899.5 475.6L903.4 475.6L906.1 472.3M907.5 467.3L911.4 467.9L915.2 465.9L919.1 465.9L920.7 467.6L914.8 473.6L911.4 474.3L906.1 472.3M911.4 462.1L914.1 463.1L916.4 462.4L920.0 463.5L919.1 465.9M920.0 463.5L923.2 458.9L922.3 454.9L921.4 451.9L922.1 445.9L920.5 444.1M920.5 444.1L913.6 443.9M920.5 444.1L920.0 441.2L917.1 440.4M922.1 445.9L926.6 445.5L929.1 438.8M916.6 437.1L923.2 435.9L929.1 438.8M924.1 429.6L928.9 431.3L931.0 431.3M931.0 431.3L931.2 425.7L932.3 423.0M931.0 431.3L932.8 436.7L929.1 438.8M932.8 436.7L939.0 441.6L942.6 448.6L941.0 452.7M941.0 452.7L938.0 454.9L931.2 455.3L922.3 454.9M941.0 452.7L946.0 451.9L950.6 459.2L955.1 460.7L959.7 463.8L959.2 467.9L955.6 470.3M920.7 467.3L925.3 467.6L929.1 466.6L931.9 465.9L936.9 472.3L932.8 475.9L936.2 476.5M929.1 466.6L932.8 472.3L932.8 475.9M933.5 481.3L930.1 480.1L926.6 481.3L920.7 481.0L920.3 479.8M920.3 479.8L917.5 478.2L917.1 476.5L914.8 473.6M911.4 474.3L911.8 476.5L912.5 477.5L912.3 482.0L910.7 485.1M911.8 476.5L905.0 476.5L905.4 480.1L908.6 482.9L910.7 485.1M920.3 479.8L920.5 483.5L919.6 485.7L920.7 488.8L924.4 488.2L928.5 488.8L928.7 487.5L932.3 486.6M928.5 488.8L928.0 490.6M912.7 486.6L914.3 484.8L915.5 487.2L916.4 490.0L914.6 493.6M919.6 485.7L917.1 486.0L915.5 487.2M916.4 490.0L920.0 489.4L920.7 488.8M914.3 484.8L914.1 482.9L912.3 482.0M894.5 424.8L895.6 421.2L897.2 415.7L896.1 408.5M931.9 417.8L935.8 413.3L939.2 408.5M851.9 441.4L850.0 443.5L851.9 445.1L854.1 445.1M963.2 488.2L967.7 489.1L968.1 492.1L970.6 493.6L969.0 494.4L969.7 497.7L970.6 500.5L968.8 501.1L965.2 500.5L962.0 501.1L956.3 502.3L952.2 502.0L951.5 503.7L950.6 504.5M959.7 482.3L965.4 482.9L971.1 484.8L974.3 486.9L979.3 487.2M974.3 486.9L971.1 488.8L967.7 489.1M971.1 488.8L973.4 492.7L974.5 495.9M970.6 493.6L974.5 495.9L977.7 494.4L980.0 497.4M965.2 501.1L962.7 503.1L962.0 508.7L957.0 511.4L952.4 514.4L950.1 513.4L950.1 511.7M950.6 508.1L951.9 509.3L950.1 511.7L948.5 512.3M949.7 513.4L949.4 516.6L948.3 521.9L946.6 517.1M948.3 522.3L950.8 522.7L954.0 520.6L952.9 516.6L957.4 515.2L958.1 514.7L957.0 511.4M958.1 514.7L964.3 517.6L970.4 522.7L974.3 522.9L976.8 522.9L978.9 524.5M974.5 522.9L977.3 520.3L979.1 520.7M970.6 501.1L972.0 504.2L973.4 506.8L972.2 510.1L973.6 512.8L977.3 515.2L977.3 517.9L979.1 520.6M991.6 500.5L997.3 498.2L1003.5 500.0L1008.0 502.5L1008.3 505.4L1006.4 509.8L1007.4 516.6L1007.4 520.8L1012.1 527.8M1007.4 520.8L1011.0 529.6L1008.9 532.9M988.2 487.2L992.1 485.7L995.0 488.8L998.5 488.8L1001.9 485.1L1005.8 489.1L1009.9 489.1L1014.4 494.1M995.0 488.8L996.2 477.2L1002.1 475.2L1007.6 482.0L1012.1 484.2M979.1 473.0L976.1 467.9L975.2 463.8L979.1 459.2L984.3 454.2L990.5 456.7L995.0 458.2L1001.9 456.7L1008.5 457.4L1012.1 456.0M966.1 554.4L967.2 552.0L975.7 552.3L980.2 548.7L987.1 548.2L989.6 553.8M987.1 548.2L993.9 545.8L995.3 540.9L994.4 539.1M994.4 539.1L996.0 535.9L996.6 533.7L996.9 531.9M994.4 539.1L988.4 538.4L986.1 535.4L985.0 534.4L984.3 534.3M863.5 506.8L864.6 509.8L865.8 515.0L861.9 515.2L860.3 519.0L856.0 521.9L852.3 522.1L848.7 524.0L848.7 526.6M838.4 526.6L848.7 526.6L848.7 530.9L841.1 530.9L841.1 537.3L838.9 537.7L838.9 542.5L829.9 542.5M848.7 527.6L857.5 533.4L853.7 533.4L855.0 545.8L856.0 554.2L856.0 556.5L847.3 556.5L843.6 557.5L840.7 558.2L837.3 555.1L834.5 553.9L830.9 555.1M857.5 533.4L871.2 543.1L875.8 545.8L876.0 547.8L881.6 547.0L895.9 537.2M876.0 547.8L876.5 557.0L870.6 557.7L869.0 557.7M888.1 501.5L887.4 507.9L885.6 512.0L887.7 513.9L890.2 520.0L894.7 512.1M890.2 520.0L890.8 525.8L891.1 529.6L891.8 534.7L895.9 537.2M895.9 537.2L900.9 539.4L902.7 538.4L905.0 537.3L923.2 547.0L923.2 545.8L925.5 545.8M925.7 516.3L925.3 522.7L925.5 540.9L925.5 545.8M925.5 540.9L940.1 540.9L952.6 540.9M923.2 545.8L923.2 556.1L920.7 556.1L918.7 562.4L920.7 567.1L922.1 571.7M902.7 538.4L904.1 545.8L903.8 555.3L899.3 561.0M899.3 561.0L891.3 562.4L884.5 560.5L877.8 562.4L876.7 565.4M899.3 561.0L900.9 563.6L900.4 567.1L898.1 571.7M869.0 557.7L863.9 560.1L858.7 561.7L856.4 564.7L856.0 568.2M869.0 557.7L870.8 561.5L874.0 565.0L876.7 565.4L875.3 571.7M840.7 558.2L842.5 563.8M842.5 563.8L837.3 563.1L830.4 563.9M842.5 563.8L848.4 564.7L849.6 568.2M837.3 563.1L834.5 567.1M956.5 550.6L952.9 553.0L951.5 557.7L951.9 559.4L950.8 563.1L948.3 565.9L946.2 570.5M951.9 559.4L955.1 558.7L959.7 559.1L965.2 563.6M965.2 563.6L963.8 567.1L966.5 567.1L967.0 565.9M966.5 567.1L968.8 570.5L975.7 572.9L977.9 574.0" fill="none" stroke="#bfbdb9" stroke-width="0.8" stroke-linejoin="round"/>
<text x="640.2" y="448" text-anchor="middle" font-size="9.2" font-weight="bold" fill="#2b2b2b" stroke="#f4f4f2" stroke-width="1.6" paint-order="stroke" style="letter-spacing:-0.15px">NORTH AMERICA</text>
<text x="924.5" y="458" text-anchor="middle" font-size="9.2" font-weight="bold" fill="#2b2b2b" stroke="#f4f4f2" stroke-width="1.6" paint-order="stroke" style="letter-spacing:-0.55px">EUROPE</text>
<text x="773" y="517.3" text-anchor="middle" font-size="9.6" fill="#4a78c4" style="letter-spacing:0">Atlantic</text>
<text x="773" y="527.3" text-anchor="middle" font-size="9.6" fill="#4a78c4" style="letter-spacing:0">Ocean</text>
<circle cx="607.7" cy="457.1" r="1.7" fill="#1a1c6e" fill-opacity="0.60" stroke="#0a0b3c" stroke-width="0.9"/>
<circle cx="600.2" cy="468.9" r="2.2" fill="#1a1c6e" fill-opacity="0.60" stroke="#0a0b3c" stroke-width="0.9"/>
<circle cx="593.1" cy="472.8" r="2.2" fill="#1a1c6e" fill-opacity="0.60" stroke="#0a0b3c" stroke-width="0.9"/>
<circle cx="598.0" cy="474.5" r="2.6" fill="#1a1c6e" fill-opacity="0.60" stroke="#0a0b3c" stroke-width="0.9"/>
<circle cx="620.3" cy="475.3" r="1.0" fill="#1a1c6e" fill-opacity="0.95" stroke="#0a0b3c" stroke-width="0.9"/>
<circle cx="625.3" cy="484.8" r="1.1" fill="#1a1c6e" fill-opacity="0.95" stroke="#0a0b3c" stroke-width="0.9"/>
<circle cx="612.5" cy="490.7" r="1.3" fill="#1a1c6e" fill-opacity="0.95" stroke="#0a0b3c" stroke-width="0.9"/>
<circle cx="628.8" cy="489.9" r="1.3" fill="#1a1c6e" fill-opacity="0.60" stroke="#0a0b3c" stroke-width="0.9"/>
<circle cx="628.1" cy="494.3" r="2.8" fill="#1a1c6e" fill-opacity="0.60" stroke="#0a0b3c" stroke-width="0.9"/>
<circle cx="646.8" cy="491.4" r="2.0" fill="#1a1c6e" fill-opacity="0.60" stroke="#0a0b3c" stroke-width="0.9"/>
<circle cx="660.7" cy="483.5" r="2.6" fill="#1a1c6e" fill-opacity="0.60" stroke="#0a0b3c" stroke-width="0.9"/>
<circle cx="609.9" cy="500.1" r="1.1" fill="#1a1c6e" fill-opacity="0.95" stroke="#0a0b3c" stroke-width="0.9"/>
<circle cx="655.4" cy="503.0" r="1.1" fill="#1a1c6e" fill-opacity="0.95" stroke="#0a0b3c" stroke-width="0.9"/>
<circle cx="647.0" cy="506.8" r="2.8" fill="#1a1c6e" fill-opacity="0.60" stroke="#0a0b3c" stroke-width="0.9"/>
<circle cx="647.0" cy="513.3" r="1.1" fill="#1a1c6e" fill-opacity="0.95" stroke="#0a0b3c" stroke-width="0.9"/>
<circle cx="612.8" cy="512.4" r="1.2" fill="#1a1c6e" fill-opacity="0.95" stroke="#0a0b3c" stroke-width="0.9"/>
<circle cx="644.8" cy="519.8" r="0.9" fill="#1a1c6e" fill-opacity="0.95" stroke="#0a0b3c" stroke-width="0.9"/>
<circle cx="648.2" cy="519.6" r="1.2" fill="#1a1c6e" fill-opacity="0.95" stroke="#0a0b3c" stroke-width="0.9"/>
<circle cx="651.2" cy="522.0" r="1.0" fill="#1a1c6e" fill-opacity="0.95" stroke="#0a0b3c" stroke-width="0.9"/>
<circle cx="664.9" cy="520.2" r="1.1" fill="#1a1c6e" fill-opacity="0.95" stroke="#0a0b3c" stroke-width="0.9"/>
<circle cx="667.7" cy="487.6" r="1.2" fill="#1a1c6e" fill-opacity="0.95" stroke="#0a0b3c" stroke-width="0.9"/>
<circle cx="678.2" cy="485.7" r="2.9" fill="#1a1c6e" fill-opacity="0.60" stroke="#0a0b3c" stroke-width="0.9"/>
<circle cx="688.2" cy="484.5" r="1.2" fill="#1a1c6e" fill-opacity="0.95" stroke="#0a0b3c" stroke-width="0.9"/>
<circle cx="694.1" cy="486.1" r="2.0" fill="#1a1c6e" fill-opacity="0.60" stroke="#0a0b3c" stroke-width="0.9"/>
<circle cx="692.6" cy="490.9" r="3.5" fill="#1a1c6e" fill-opacity="0.60" stroke="#0a0b3c" stroke-width="0.9"/>
<circle cx="699.1" cy="489.7" r="2.9" fill="#1a1c6e" fill-opacity="0.60" stroke="#0a0b3c" stroke-width="0.9"/>
<circle cx="704.7" cy="483.2" r="3.2" fill="#1a1c6e" fill-opacity="0.60" stroke="#0a0b3c" stroke-width="0.9"/>
<circle cx="705.6" cy="485.7" r="2.9" fill="#1a1c6e" fill-opacity="0.95" stroke="#0a0b3c" stroke-width="0.9"/>
<circle cx="678.6" cy="493.4" r="1.3" fill="#1a1c6e" fill-opacity="0.60" stroke="#0a0b3c" stroke-width="0.9"/>
<circle cx="675.1" cy="496.0" r="1.0" fill="#1a1c6e" fill-opacity="0.95" stroke="#0a0b3c" stroke-width="0.9"/>
<circle cx="673.2" cy="501.1" r="1.0" fill="#1a1c6e" fill-opacity="0.95" stroke="#0a0b3c" stroke-width="0.9"/>
<circle cx="681.2" cy="507.0" r="3.4" fill="#1a1c6e" fill-opacity="0.60" stroke="#0a0b3c" stroke-width="0.9"/>
<circle cx="670.1" cy="511.2" r="1.2" fill="#1a1c6e" fill-opacity="0.60" stroke="#0a0b3c" stroke-width="0.9"/>
<circle cx="675.8" cy="510.8" r="1.0" fill="#1a1c6e" fill-opacity="0.95" stroke="#0a0b3c" stroke-width="0.9"/>
<circle cx="676.9" cy="514.0" r="1.0" fill="#1a1c6e" fill-opacity="0.95" stroke="#0a0b3c" stroke-width="0.9"/>
<circle cx="683.4" cy="515.1" r="1.3" fill="#1a1c6e" fill-opacity="0.60" stroke="#0a0b3c" stroke-width="0.9"/>
<circle cx="679.1" cy="526.5" r="1.5" fill="#1a1c6e" fill-opacity="0.95" stroke="#0a0b3c" stroke-width="0.9"/>
<circle cx="684.2" cy="526.4" r="3.1" fill="#1a1c6e" fill-opacity="0.60" stroke="#0a0b3c" stroke-width="0.9"/>
<circle cx="744.9" cy="471.8" r="1.0" fill="#1a1c6e" fill-opacity="0.95" stroke="#0a0b3c" stroke-width="0.9"/>
<circle cx="587.3" cy="463.3" r="2.8" fill="#1a1c6e" fill-opacity="0.95" stroke="#0a0b3c" stroke-width="0.9"/>
<circle cx="588.6" cy="466.3" r="3.2" fill="#1a1c6e" fill-opacity="0.95" stroke="#0a0b3c" stroke-width="0.9"/>
<circle cx="585.5" cy="467.0" r="2.4" fill="#1a1c6e" fill-opacity="0.95" stroke="#0a0b3c" stroke-width="0.9"/>
<circle cx="588.0" cy="470.8" r="3.6" fill="#1a1c6e" fill-opacity="0.95" stroke="#0a0b3c" stroke-width="0.9"/>
<circle cx="588.6" cy="474.7" r="2.9" fill="#1a1c6e" fill-opacity="0.95" stroke="#0a0b3c" stroke-width="0.9"/>
<circle cx="587.7" cy="477.3" r="3.2" fill="#1a1c6e" fill-opacity="0.95" stroke="#0a0b3c" stroke-width="0.9"/>
<circle cx="586.4" cy="479.8" r="2.4" fill="#1a1c6e" fill-opacity="0.60" stroke="#0a0b3c" stroke-width="0.9"/>
<circle cx="587.0" cy="496.5" r="3.0" fill="#1a1c6e" fill-opacity="0.60" stroke="#0a0b3c" stroke-width="0.9"/>
<circle cx="588.5" cy="499.5" r="3.6" fill="#1a1c6e" fill-opacity="0.95" stroke="#0a0b3c" stroke-width="0.9"/>
<circle cx="589.2" cy="501.5" r="3.0" fill="#1a1c6e" fill-opacity="0.95" stroke="#0a0b3c" stroke-width="0.9"/>
<circle cx="597.9" cy="510.1" r="3.6" fill="#1a1c6e" fill-opacity="0.95" stroke="#0a0b3c" stroke-width="0.9"/>
<circle cx="599.1" cy="511.5" r="3.2" fill="#1a1c6e" fill-opacity="0.95" stroke="#0a0b3c" stroke-width="0.9"/>
<circle cx="600.6" cy="514.3" r="3.4" fill="#1a1c6e" fill-opacity="0.60" stroke="#0a0b3c" stroke-width="0.9"/>
<circle cx="864.6" cy="441.7" r="3.4" fill="#1a1c6e" fill-opacity="0.95" stroke="#0a0b3c" stroke-width="0.9"/>
<circle cx="862.0" cy="447.3" r="3.0" fill="#1a1c6e" fill-opacity="0.95" stroke="#0a0b3c" stroke-width="0.9"/>
<circle cx="865.9" cy="446.5" r="3.0" fill="#1a1c6e" fill-opacity="0.60" stroke="#0a0b3c" stroke-width="0.9"/>
<circle cx="862.9" cy="451.2" r="3.0" fill="#1a1c6e" fill-opacity="0.95" stroke="#0a0b3c" stroke-width="0.9"/>
<circle cx="867.2" cy="452.0" r="3.2" fill="#1a1c6e" fill-opacity="0.95" stroke="#0a0b3c" stroke-width="0.9"/>
<circle cx="865.0" cy="455.5" r="3.0" fill="#1a1c6e" fill-opacity="0.95" stroke="#0a0b3c" stroke-width="0.9"/>
<circle cx="869.8" cy="454.6" r="3.0" fill="#1a1c6e" fill-opacity="0.95" stroke="#0a0b3c" stroke-width="0.9"/>
<circle cx="868.5" cy="458.1" r="3.0" fill="#1a1c6e" fill-opacity="0.95" stroke="#0a0b3c" stroke-width="0.9"/>
<circle cx="872.8" cy="457.2" r="2.6" fill="#1a1c6e" fill-opacity="0.95" stroke="#0a0b3c" stroke-width="0.9"/>
<circle cx="875.3" cy="458.5" r="2.4" fill="#1a1c6e" fill-opacity="0.95" stroke="#0a0b3c" stroke-width="0.9"/>
<circle cx="875.8" cy="464.9" r="3.0" fill="#1a1c6e" fill-opacity="0.45" stroke="#0a0b3c" stroke-width="0.9"/>
<circle cx="872.8" cy="465.8" r="3.9" fill="#1a1c6e" fill-opacity="0.95" stroke="#0a0b3c" stroke-width="0.9"/>
<circle cx="891.5" cy="444.7" r="2.3" fill="#1a1c6e" fill-opacity="0.95" stroke="#0a0b3c" stroke-width="0.9"/>
<circle cx="891.1" cy="447.9" r="3.0" fill="#1a1c6e" fill-opacity="0.45" stroke="#0a0b3c" stroke-width="0.9"/>
<circle cx="899.0" cy="451.4" r="3.4" fill="#1a1c6e" fill-opacity="0.45" stroke="#0a0b3c" stroke-width="0.9"/>
<circle cx="892.1" cy="452.9" r="2.4" fill="#1a1c6e" fill-opacity="0.95" stroke="#0a0b3c" stroke-width="0.9"/>
<circle cx="885.6" cy="455.5" r="3.6" fill="#1a1c6e" fill-opacity="0.95" stroke="#0a0b3c" stroke-width="0.9"/>
<circle cx="889.1" cy="456.3" r="2.6" fill="#1a1c6e" fill-opacity="0.95" stroke="#0a0b3c" stroke-width="0.9"/>
<circle cx="896.8" cy="455.9" r="2.2" fill="#1a1c6e" fill-opacity="0.95" stroke="#0a0b3c" stroke-width="0.9"/>
<circle cx="900.2" cy="457.2" r="1.9" fill="#1a1c6e" fill-opacity="0.45" stroke="#0a0b3c" stroke-width="0.9"/>
<circle cx="887.8" cy="460.2" r="3.0" fill="#1a1c6e" fill-opacity="0.95" stroke="#0a0b3c" stroke-width="0.9"/>
<circle cx="895.5" cy="460.0" r="2.2" fill="#1a1c6e" fill-opacity="0.45" stroke="#0a0b3c" stroke-width="0.9"/>
<circle cx="883.1" cy="463.6" r="3.0" fill="#1a1c6e" fill-opacity="0.95" stroke="#0a0b3c" stroke-width="0.9"/>
<circle cx="892.9" cy="462.8" r="2.6" fill="#1a1c6e" fill-opacity="0.95" stroke="#0a0b3c" stroke-width="0.9"/>
<circle cx="889.1" cy="465.4" r="2.4" fill="#1a1c6e" fill-opacity="0.45" stroke="#0a0b3c" stroke-width="0.9"/>
<circle cx="894.7" cy="467.1" r="3.2" fill="#1a1c6e" fill-opacity="0.95" stroke="#0a0b3c" stroke-width="0.9"/>
<circle cx="871.1" cy="482.6" r="2.2" fill="#1a1c6e" fill-opacity="0.60" stroke="#0a0b3c" stroke-width="0.9"/>
<circle cx="932.6" cy="503.7" r="2.9" fill="#1a1c6e" fill-opacity="0.60" stroke="#0a0b3c" stroke-width="0.9"/>
<rect x="543.6" y="551.3" width="3.7" height="3.7" fill="#f25022"/><rect x="547.8" y="551.3" width="3.7" height="3.7" fill="#7fba00"/><rect x="543.6" y="555.5" width="3.7" height="3.7" fill="#00a4ef"/><rect x="547.8" y="555.5" width="3.7" height="3.7" fill="#ffb900"/>
<text x="553.6" y="558.2" font-size="6.8" fill="#737373" style="letter-spacing:-0.2px">Microsoft Bing</text>
<text x="750.4" y="560.3" font-size="7.25" fill="#111" stroke="#fff" stroke-opacity="0.75" stroke-width="1.6" paint-order="stroke" style="letter-spacing:0">© 2023 TomTom, © 2023 Microsoft Corporation, <tspan fill="#2f63b8" text-decoration="underline">© OpenStreetMap</tspan><tspan dx="5" fill="#2f63b8" text-decoration="underline">Terms</tspan></text>
</svg>
</body></html>
